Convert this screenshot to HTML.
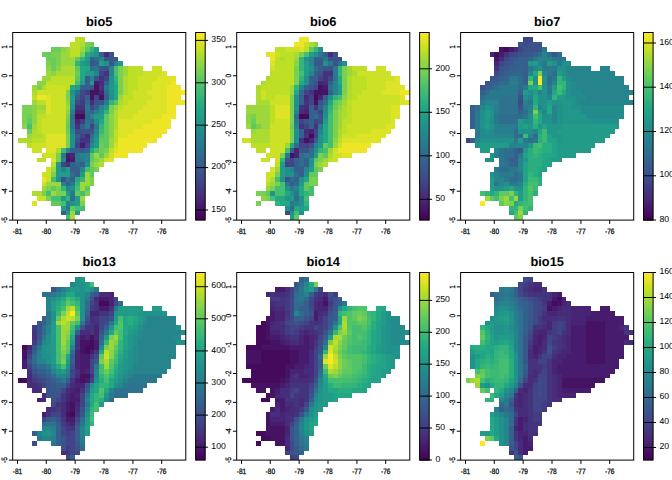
<!DOCTYPE html>
<html><head><meta charset="utf-8"><title>bioclim</title>
<style>
html,body{margin:0;padding:0;background:#fff;overflow:hidden}
svg{display:block}
text{font-family:"Liberation Sans",sans-serif;fill:#000;shape-rendering:auto;text-rendering:geometricPrecision}
.ti{font-size:12.8px;font-weight:bold}
.ax{font-size:7.8px;stroke:#000;stroke-width:.25px}
.lg{font-size:8.7px}
</style></head><body>
<svg width="672" height="480" viewBox="0 0 672 480" shape-rendering="crispEdges">
<defs><linearGradient id="vg" x1="0" y1="0" x2="0" y2="1"><stop offset="0%" stop-color="#fde725"/><stop offset="10%" stop-color="#bddf26"/><stop offset="20%" stop-color="#7ad151"/><stop offset="30%" stop-color="#44bf70"/><stop offset="40%" stop-color="#22a884"/><stop offset="50%" stop-color="#21918c"/><stop offset="60%" stop-color="#2a788e"/><stop offset="70%" stop-color="#355f8d"/><stop offset="80%" stop-color="#414487"/><stop offset="90%" stop-color="#482475"/><stop offset="100%" stop-color="#440154"/></linearGradient></defs>
<rect width="672" height="480" fill="#fff"/>
<g><path fill="rgb(69,10,92)" d="M75.2 114.3H84.8V119.1H75.2z"/>
<path fill="rgb(70,18,100)" d="M94.4 85.4H99.2V90.2H94.4zM89.6 90.2H99.2V95.0H89.6zM89.6 95.0H94.4V99.8H89.6zM99.2 95.0H104.0V99.8H99.2zM65.5 157.6H70.4V162.4H65.5z"/>
<path fill="rgb(71,27,109)" d="M94.4 80.6H99.2V85.4H94.4zM80.0 143.1H84.8V147.9H80.0zM65.5 152.8H70.4V157.6H65.5zM70.4 157.6H75.2V162.4H70.4z"/>
<path fill="rgb(72,36,117)" d="M99.2 90.2H104.0V95.0H99.2zM75.2 109.5H84.8V114.3H75.2zM75.2 119.1H80.0V123.9H75.2zM70.4 152.8H75.2V157.6H70.4z"/>
<path fill="rgb(70,44,122)" d="M104.0 51.7H108.8V56.6H104.0zM99.2 80.6H104.0V85.4H99.2zM89.6 99.8H94.4V104.7H89.6zM84.8 133.5H89.6V138.3H84.8z"/>
<path fill="rgb(68,52,126)" d="M104.0 71.0H108.8V75.8H104.0zM99.2 75.8H104.0V80.6H99.2zM99.2 85.4H104.0V90.2H99.2zM75.2 104.7H84.8V109.5H75.2zM75.2 123.9H80.0V128.7H75.2zM80.0 138.3H89.6V143.1H80.0zM65.5 162.4H70.4V167.2H65.5z"/>
<path fill="rgb(67,60,130)" d="M84.8 90.2H89.6V95.0H84.8zM80.0 99.8H84.8V104.7H80.0zM80.0 119.1H84.8V123.9H80.0z"/>
<path fill="rgb(65,68,135)" d="M99.2 71.0H104.0V75.8H99.2zM104.0 75.8H108.8V80.6H104.0zM80.0 95.0H84.8V99.8H80.0zM94.4 95.0H99.2V99.8H94.4zM89.6 104.7H94.4V109.5H89.6zM89.6 123.9H94.4V128.7H89.6zM80.0 133.5H84.8V138.3H80.0zM75.2 143.1H80.0V147.9H75.2zM84.8 143.1H89.6V147.9H84.8zM60.7 162.4H65.5V167.2H60.7z"/>
<path fill="rgb(62,75,136)" d="M80.0 90.2H84.8V95.0H80.0zM75.2 99.8H80.0V104.7H75.2zM75.2 128.7H80.0V133.5H75.2z"/>
<path fill="rgb(59,82,138)" d="M108.8 51.7H113.6V56.6H108.8zM113.6 56.6H118.4V61.4H113.6zM104.0 66.2H108.8V71.0H104.0zM94.4 75.8H99.2V80.6H94.4zM89.6 85.4H94.4V90.2H89.6zM94.4 99.8H104.0V104.7H94.4zM80.0 128.7H89.6V133.5H80.0zM75.2 138.3H80.0V143.1H75.2zM60.7 176.8H65.5V181.6H60.7z"/>
<path fill="rgb(56,88,140)" d="M104.0 56.6H113.6V61.4H104.0zM89.6 61.4H94.4V66.2H89.6zM108.8 61.4H113.6V66.2H108.8zM99.2 66.2H104.0V71.0H99.2zM89.6 128.7H94.4V133.5H89.6zM80.0 147.9H84.8V152.8H80.0z"/>
<path fill="rgb(53,95,141)" d="M99.2 51.7H104.0V56.6H99.2zM89.6 56.6H94.4V61.4H89.6zM94.4 61.4H99.2V66.2H94.4zM84.8 75.8H89.6V80.6H84.8zM84.8 80.6H89.6V85.4H84.8zM104.0 80.6H108.8V85.4H104.0zM80.0 85.4H89.6V90.2H80.0zM75.2 95.0H80.0V99.8H75.2zM84.8 95.0H89.6V99.8H84.8zM104.0 95.0H108.8V99.8H104.0zM94.4 104.7H99.2V109.5H94.4zM80.0 123.9H84.8V128.7H80.0zM75.2 133.5H80.0V138.3H75.2zM70.4 147.9H80.0V152.8H70.4zM70.4 162.4H75.2V167.2H70.4zM80.0 162.4H84.8V167.2H80.0zM70.4 167.2H80.0V172.0H70.4zM75.2 172.0H80.0V176.8H75.2zM70.4 176.8H75.2V181.6H70.4zM65.5 181.6H70.4V186.4H65.5zM60.7 210.5H65.5V215.3H60.7z"/>
<path fill="rgb(50,101,141)" d="M89.6 109.5H94.4V114.3H89.6zM89.6 119.1H94.4V123.9H89.6zM84.8 147.9H89.6V152.8H84.8z"/>
<path fill="rgb(48,108,142)" d="M94.4 56.6H99.2V61.4H94.4zM89.6 66.2H94.4V71.0H89.6zM75.2 90.2H80.0V95.0H75.2zM104.0 90.2H108.8V95.0H104.0zM84.8 99.8H89.6V104.7H84.8zM70.4 114.3H75.2V119.1H70.4zM84.8 114.3H89.6V119.1H84.8zM89.6 133.5H94.4V138.3H89.6zM75.2 162.4H80.0V167.2H75.2zM70.4 172.0H75.2V176.8H70.4zM70.4 196.0H75.2V200.9H70.4z"/>
<path fill="rgb(45,114,142)" d="M94.4 66.2H99.2V71.0H94.4zM84.8 109.5H89.6V114.3H84.8zM70.4 119.1H75.2V123.9H70.4zM84.8 119.1H89.6V123.9H84.8z"/>
<path fill="rgb(42,120,142)" d="M104.0 85.4H108.8V90.2H104.0zM84.8 104.7H89.6V109.5H84.8zM70.4 123.9H75.2V128.7H70.4zM84.8 123.9H89.6V128.7H84.8zM94.4 123.9H99.2V128.7H94.4zM89.6 138.3H94.4V143.1H89.6zM60.7 152.8H65.5V157.6H60.7zM75.2 152.8H80.0V157.6H75.2zM75.2 157.6H84.8V162.4H75.2zM65.5 176.8H70.4V181.6H65.5zM70.4 181.6H75.2V186.4H70.4zM70.4 191.2H75.2V196.0H70.4zM65.5 205.7H70.4V210.5H65.5z"/>
<path fill="rgb(40,126,142)" d="M104.0 99.8H108.8V104.7H104.0zM70.4 109.5H75.2V114.3H70.4zM94.4 109.5H99.2V114.3H94.4z"/>
<path fill="rgb(38,132,141)" d="M99.2 56.6H104.0V61.4H99.2zM113.6 61.4H118.4V66.2H113.6zM108.8 66.2H113.6V71.0H108.8zM94.4 71.0H99.2V75.8H94.4zM108.8 71.0H113.6V75.8H108.8zM89.6 75.8H94.4V80.6H89.6zM99.2 104.7H104.0V109.5H99.2zM89.6 114.3H94.4V119.1H89.6zM70.4 128.7H75.2V133.5H70.4zM94.4 128.7H99.2V133.5H94.4zM89.6 143.1H94.4V147.9H89.6zM65.5 147.9H70.4V152.8H65.5zM80.0 152.8H89.6V157.6H80.0zM60.7 157.6H65.5V162.4H60.7zM84.8 157.6H89.6V162.4H84.8zM60.7 167.2H65.5V172.0H60.7zM80.0 167.2H84.8V172.0H80.0zM60.7 181.6H65.5V186.4H60.7zM65.5 186.4H70.4V191.2H65.5zM65.5 200.9H70.4V205.7H65.5z"/>
<path fill="rgb(35,139,140)" d="M94.4 119.1H99.2V123.9H94.4z"/>
<path fill="rgb(33,145,140)" d="M94.4 51.7H99.2V56.6H94.4zM84.8 61.4H89.6V66.2H84.8zM104.0 61.4H108.8V66.2H104.0zM108.8 75.8H113.6V80.6H108.8zM108.8 80.6H113.6V85.4H108.8zM70.4 90.2H75.2V95.0H70.4zM108.8 90.2H113.6V95.0H108.8zM108.8 95.0H113.6V99.8H108.8zM70.4 104.7H75.2V109.5H70.4zM99.2 109.5H104.0V114.3H99.2zM70.4 133.5H75.2V138.3H70.4zM94.4 133.5H99.2V138.3H94.4zM70.4 138.3H75.2V143.1H70.4zM70.4 143.1H75.2V147.9H70.4zM84.8 162.4H89.6V167.2H84.8zM55.9 176.8H60.7V181.6H55.9zM70.4 186.4H75.2V191.2H70.4zM70.4 200.9H75.2V205.7H70.4z"/>
<path fill="rgb(33,151,138)" d="M108.8 85.4H113.6V90.2H108.8zM70.4 99.8H75.2V104.7H70.4zM94.4 138.3H99.2V143.1H94.4z"/>
<path fill="rgb(34,156,136)" d="M94.4 46.9H99.2V51.7H94.4zM89.6 51.7H94.4V56.6H89.6zM84.8 56.6H89.6V61.4H84.8zM80.0 61.4H84.8V66.2H80.0zM99.2 61.4H104.0V66.2H99.2zM118.4 61.4H123.2V66.2H118.4zM84.8 71.0H94.4V75.8H84.8zM80.0 80.6H84.8V85.4H80.0zM89.6 80.6H94.4V85.4H89.6zM75.2 85.4H80.0V90.2H75.2zM70.4 95.0H75.2V99.8H70.4zM104.0 104.7H108.8V109.5H104.0zM94.4 114.3H104.0V119.1H94.4zM94.4 143.1H99.2V147.9H94.4zM55.9 162.4H60.7V167.2H55.9zM55.9 167.2H60.7V172.0H55.9zM65.5 167.2H70.4V172.0H65.5zM55.9 172.0H70.4V176.8H55.9zM80.0 172.0H84.8V176.8H80.0zM65.5 191.2H70.4V196.0H65.5zM60.7 196.0H65.5V200.9H60.7zM75.2 196.0H80.0V200.9H75.2zM75.2 200.9H80.0V205.7H75.2zM60.7 205.7H65.5V210.5H60.7zM65.5 210.5H70.4V215.3H65.5zM75.2 210.5H80.0V215.3H75.2z"/>
<path fill="rgb(34,168,132)" d="M84.8 51.7H89.6V56.6H84.8zM80.0 66.2H89.6V71.0H80.0zM80.0 71.0H84.8V75.8H80.0zM80.0 75.8H84.8V80.6H80.0zM70.4 85.4H75.2V90.2H70.4zM113.6 85.4H118.4V90.2H113.6zM113.6 90.2H118.4V95.0H113.6zM113.6 95.0H118.4V99.8H113.6zM99.2 119.1H104.0V123.9H99.2zM89.6 147.9H94.4V152.8H89.6zM75.2 176.8H80.0V181.6H75.2z"/>
<path fill="rgb(42,174,127)" d="M113.6 80.6H118.4V85.4H113.6z"/>
<path fill="rgb(51,180,122)" d="M89.6 46.9H94.4V51.7H89.6zM80.0 56.6H84.8V61.4H80.0zM75.2 61.4H80.0V66.2H75.2zM113.6 75.8H118.4V80.6H113.6zM108.8 99.8H113.6V104.7H108.8zM104.0 109.5H108.8V114.3H104.0zM99.2 123.9H104.0V128.7H99.2zM80.0 176.8H84.8V181.6H80.0zM75.2 181.6H80.0V186.4H75.2zM60.7 186.4H65.5V191.2H60.7zM65.5 196.0H70.4V200.9H65.5z"/>
<path fill="rgb(60,185,117)" d="M99.2 128.7H104.0V133.5H99.2zM60.7 147.9H65.5V152.8H60.7z"/>
<path fill="rgb(68,191,112)" d="M113.6 66.2H118.4V71.0H113.6zM113.6 71.0H118.4V75.8H113.6zM75.2 80.6H80.0V85.4H75.2zM27.1 123.9H31.9V128.7H27.1zM94.4 147.9H99.2V152.8H94.4zM84.8 167.2H89.6V172.0H84.8zM51.1 176.8H55.9V181.6H51.1zM75.2 186.4H80.0V191.2H75.2zM46.3 191.2H51.1V196.0H46.3zM80.0 191.2H84.8V196.0H80.0zM51.1 196.0H60.7V200.9H51.1zM60.7 200.9H65.5V205.7H60.7zM75.2 205.7H84.8V210.5H75.2zM65.5 215.3H70.4V220.1H65.5z"/>
<path fill="rgb(82,196,104)" d="M113.6 99.8H118.4V104.7H113.6zM99.2 133.5H104.0V138.3H99.2z"/>
<path fill="rgb(95,200,96)" d="M84.8 46.9H89.6V51.7H84.8zM75.2 56.6H80.0V61.4H75.2zM75.2 66.2H80.0V71.0H75.2zM75.2 75.8H80.0V80.6H75.2zM104.0 114.3H108.8V119.1H104.0zM27.1 119.1H31.9V123.9H27.1zM104.0 119.1H108.8V123.9H104.0zM65.5 123.9H70.4V128.7H65.5zM104.0 123.9H108.8V128.7H104.0zM104.0 128.7H108.8V133.5H104.0zM104.0 133.5H108.8V138.3H104.0zM99.2 138.3H108.8V143.1H99.2zM104.0 143.1H108.8V147.9H104.0zM89.6 152.8H94.4V157.6H89.6zM99.2 152.8H104.0V157.6H99.2zM89.6 157.6H94.4V162.4H89.6zM89.6 167.2H94.4V172.0H89.6zM89.6 172.0H94.4V176.8H89.6zM51.1 186.4H55.9V191.2H51.1zM84.8 186.4H89.6V191.2H84.8zM75.2 191.2H80.0V196.0H75.2zM51.1 200.9H60.7V205.7H51.1zM70.4 205.7H75.2V210.5H70.4z"/>
<path fill="rgb(108,204,89)" d="M89.6 42.1H94.4V46.9H89.6zM51.1 46.9H60.7V51.7H51.1zM41.5 51.7H51.1V56.6H41.5zM46.3 56.6H55.9V61.4H46.3zM51.1 61.4H55.9V66.2H51.1zM51.1 66.2H55.9V71.0H51.1zM75.2 71.0H80.0V75.8H75.2zM27.1 114.3H31.9V119.1H27.1zM65.5 119.1H70.4V123.9H65.5zM27.1 128.7H31.9V133.5H27.1zM65.5 128.7H70.4V133.5H65.5zM99.2 143.1H104.0V147.9H99.2zM99.2 147.9H104.0V152.8H99.2z"/>
<path fill="rgb(122,209,81)" d="M84.8 42.1H89.6V46.9H84.8zM51.1 51.7H60.7V56.6H51.1zM80.0 51.7H84.8V56.6H80.0zM55.9 56.6H60.7V61.4H55.9zM46.3 61.4H51.1V66.2H46.3zM55.9 61.4H60.7V66.2H55.9zM118.4 66.2H123.2V71.0H118.4zM118.4 71.0H123.2V75.8H118.4zM118.4 75.8H123.2V80.6H118.4zM118.4 80.6H123.2V85.4H118.4zM36.7 85.4H41.5V90.2H36.7zM118.4 85.4H123.2V90.2H118.4zM65.5 90.2H70.4V95.0H65.5zM118.4 90.2H123.2V95.0H118.4zM65.5 95.0H70.4V99.8H65.5zM22.3 104.7H31.9V109.5H22.3zM108.8 104.7H113.6V109.5H108.8zM22.3 109.5H31.9V114.3H22.3zM108.8 109.5H113.6V114.3H108.8zM22.3 114.3H27.1V119.1H22.3zM65.5 114.3H70.4V119.1H65.5zM22.3 119.1H27.1V123.9H22.3zM65.5 133.5H70.4V138.3H65.5zM65.5 138.3H70.4V143.1H65.5zM65.5 143.1H70.4V147.9H65.5zM104.0 147.9H108.8V152.8H104.0zM55.9 152.8H60.7V157.6H55.9zM55.9 157.6H60.7V162.4H55.9zM94.4 157.6H99.2V162.4H94.4zM89.6 162.4H94.4V167.2H89.6zM94.4 167.2H99.2V172.0H94.4zM51.1 172.0H55.9V176.8H51.1zM89.6 176.8H94.4V181.6H89.6zM89.6 181.6H94.4V186.4H89.6zM46.3 186.4H51.1V191.2H46.3zM55.9 186.4H60.7V191.2H55.9zM41.5 191.2H46.3V196.0H41.5zM55.9 191.2H65.5V196.0H55.9zM84.8 191.2H89.6V196.0H84.8zM46.3 196.0H51.1V200.9H46.3zM80.0 200.9H84.8V205.7H80.0z"/>
<path fill="rgb(139,212,70)" d="M60.7 46.9H65.5V51.7H60.7zM46.3 66.2H51.1V71.0H46.3zM55.9 66.2H60.7V71.0H55.9zM51.1 71.0H55.9V75.8H51.1zM36.7 80.6H46.3V85.4H36.7zM65.5 99.8H70.4V104.7H65.5zM31.9 104.7H36.7V109.5H31.9zM31.9 109.5H36.7V114.3H31.9zM65.5 109.5H70.4V114.3H65.5zM31.9 114.3H36.7V119.1H31.9zM108.8 114.3H113.6V119.1H108.8zM31.9 119.1H36.7V123.9H31.9zM108.8 119.1H113.6V123.9H108.8zM22.3 123.9H27.1V128.7H22.3zM108.8 123.9H113.6V128.7H108.8zM108.8 128.7H113.6V133.5H108.8zM108.8 133.5H113.6V138.3H108.8z"/>
<path fill="rgb(156,216,60)" d="M65.5 46.9H70.4V51.7H65.5zM80.0 46.9H84.8V51.7H80.0zM60.7 51.7H70.4V56.6H60.7zM60.7 56.6H75.2V61.4H60.7zM60.7 61.4H75.2V66.2H60.7zM123.2 66.2H128.1V71.0H123.2zM46.3 71.0H51.1V75.8H46.3zM123.2 71.0H128.1V75.8H123.2zM41.5 75.8H51.1V80.6H41.5zM31.9 85.4H36.7V90.2H31.9zM118.4 95.0H123.2V99.8H118.4zM31.9 99.8H36.7V104.7H31.9zM36.7 104.7H46.3V109.5H36.7zM65.5 104.7H70.4V109.5H65.5zM113.6 104.7H118.4V109.5H113.6zM31.9 123.9H36.7V128.7H31.9zM27.1 133.5H31.9V138.3H27.1zM108.8 138.3H113.6V143.1H108.8zM108.8 143.1H113.6V147.9H108.8zM94.4 152.8H99.2V157.6H94.4zM104.0 152.8H108.8V157.6H104.0zM99.2 157.6H104.0V162.4H99.2zM94.4 162.4H99.2V167.2H94.4zM51.1 167.2H55.9V172.0H51.1zM84.8 172.0H89.6V176.8H84.8zM84.8 176.8H89.6V181.6H84.8zM46.3 181.6H60.7V186.4H46.3zM80.0 181.6H89.6V186.4H80.0zM41.5 186.4H46.3V191.2H41.5zM80.0 186.4H84.8V191.2H80.0zM51.1 191.2H55.9V196.0H51.1zM80.0 196.0H84.8V200.9H80.0zM70.4 210.5H75.2V215.3H70.4z"/>
<path fill="rgb(172,220,49)" d="M80.0 42.1H84.8V46.9H80.0zM60.7 66.2H75.2V71.0H60.7zM55.9 71.0H75.2V75.8H55.9zM123.2 75.8H128.1V80.6H123.2zM123.2 80.6H128.1V85.4H123.2zM41.5 85.4H46.3V90.2H41.5zM123.2 85.4H128.1V90.2H123.2zM31.9 90.2H36.7V95.0H31.9zM123.2 90.2H128.1V95.0H123.2zM118.4 99.8H123.2V104.7H118.4zM36.7 109.5H46.3V114.3H36.7zM113.6 109.5H118.4V114.3H113.6zM113.6 114.3H118.4V119.1H113.6zM113.6 119.1H118.4V123.9H113.6zM113.6 123.9H118.4V128.7H113.6zM31.9 128.7H36.7V133.5H31.9zM31.9 133.5H41.5V138.3H31.9zM17.5 138.3H31.9V143.1H17.5zM55.9 147.9H60.7V152.8H55.9zM99.2 162.4H104.0V167.2H99.2zM31.9 191.2H41.5V196.0H31.9zM70.4 215.3H75.2V220.1H70.4z"/>
<path fill="rgb(189,223,38)" d="M75.2 37.3H84.8V42.1H75.2zM70.4 42.1H80.0V46.9H70.4zM70.4 46.9H80.0V51.7H70.4zM70.4 51.7H80.0V56.6H70.4zM128.1 66.2H142.5V71.0H128.1zM128.1 71.0H142.5V75.8H128.1zM51.1 75.8H75.2V80.6H51.1zM128.1 75.8H137.7V80.6H128.1zM46.3 80.6H75.2V85.4H46.3zM128.1 80.6H137.7V85.4H128.1zM65.5 85.4H70.4V90.2H65.5zM128.1 85.4H137.7V90.2H128.1zM128.1 90.2H132.9V95.0H128.1zM31.9 95.0H36.7V99.8H31.9zM123.2 95.0H132.9V99.8H123.2zM36.7 99.8H46.3V104.7H36.7zM123.2 99.8H128.1V104.7H123.2zM118.4 104.7H123.2V109.5H118.4zM36.7 114.3H46.3V119.1H36.7zM36.7 119.1H41.5V123.9H36.7zM36.7 123.9H41.5V128.7H36.7zM36.7 128.7H41.5V133.5H36.7zM113.6 128.7H118.4V133.5H113.6zM41.5 133.5H46.3V138.3H41.5zM113.6 133.5H118.4V138.3H113.6zM31.9 138.3H46.3V143.1H31.9zM113.6 138.3H118.4V143.1H113.6zM27.1 143.1H31.9V147.9H27.1zM108.8 147.9H113.6V152.8H108.8zM36.7 157.6H46.3V162.4H36.7zM51.1 162.4H55.9V167.2H51.1z"/>
<path fill="rgb(205,225,38)" d="M152.1 66.2H161.7V71.0H152.1zM142.5 71.0H161.7V75.8H142.5zM137.7 75.8H156.9V80.6H137.7zM137.7 80.6H152.1V85.4H137.7zM46.3 85.4H65.5V90.2H46.3zM137.7 85.4H152.1V90.2H137.7zM36.7 90.2H65.5V95.0H36.7zM132.9 90.2H147.3V95.0H132.9zM51.1 95.0H65.5V99.8H51.1zM132.9 95.0H152.1V99.8H132.9zM51.1 99.8H65.5V104.7H51.1zM128.1 99.8H147.3V104.7H128.1zM51.1 104.7H65.5V109.5H51.1zM123.2 104.7H142.5V109.5H123.2zM51.1 109.5H65.5V114.3H51.1zM118.4 109.5H137.7V114.3H118.4zM46.3 114.3H65.5V119.1H46.3zM118.4 114.3H132.9V119.1H118.4zM41.5 119.1H65.5V123.9H41.5zM41.5 123.9H65.5V128.7H41.5zM41.5 128.7H65.5V133.5H41.5zM31.9 143.1H46.3V147.9H31.9zM113.6 143.1H118.4V147.9H113.6zM31.9 147.9H41.5V152.8H31.9zM41.5 152.8H55.9V157.6H41.5zM108.8 152.8H113.6V157.6H108.8zM104.0 157.6H108.8V162.4H104.0zM46.3 167.2H51.1V172.0H46.3zM41.5 172.0H51.1V176.8H41.5zM46.3 176.8H51.1V181.6H46.3zM41.5 181.6H46.3V186.4H41.5zM36.7 196.0H46.3V200.9H36.7z"/>
<path fill="rgb(221,227,38)" d="M161.7 71.0H166.5V75.8H161.7zM156.9 75.8H176.1V80.6H156.9zM152.1 80.6H171.3V85.4H152.1zM152.1 85.4H166.5V90.2H152.1zM147.3 90.2H166.5V95.0H147.3zM46.3 95.0H51.1V99.8H46.3zM152.1 95.0H166.5V99.8H152.1zM46.3 99.8H51.1V104.7H46.3zM147.3 99.8H166.5V104.7H147.3zM46.3 104.7H51.1V109.5H46.3zM142.5 104.7H166.5V109.5H142.5zM46.3 109.5H51.1V114.3H46.3zM137.7 109.5H166.5V114.3H137.7zM132.9 114.3H161.7V119.1H132.9zM118.4 119.1H152.1V123.9H118.4zM118.4 123.9H142.5V128.7H118.4zM118.4 128.7H132.9V133.5H118.4zM46.3 133.5H65.5V138.3H46.3zM118.4 133.5H128.1V138.3H118.4zM46.3 138.3H65.5V143.1H46.3zM46.3 143.1H65.5V147.9H46.3zM46.3 147.9H55.9V152.8H46.3zM113.6 147.9H118.4V152.8H113.6zM51.1 157.6H55.9V162.4H51.1zM108.8 157.6H113.6V162.4H108.8zM31.9 200.9H36.7V205.7H31.9z"/>
<path fill="rgb(237,229,37)" d="M171.3 80.6H176.1V85.4H171.3zM166.5 85.4H180.9V90.2H166.5zM166.5 90.2H180.9V95.0H166.5zM36.7 95.0H46.3V99.8H36.7zM166.5 95.0H180.9V99.8H166.5zM166.5 99.8H185.8V104.7H166.5zM166.5 104.7H176.1V109.5H166.5zM166.5 109.5H176.1V114.3H166.5zM161.7 114.3H176.1V119.1H161.7zM152.1 119.1H171.3V123.9H152.1zM142.5 123.9H171.3V128.7H142.5zM132.9 128.7H166.5V133.5H132.9zM128.1 133.5H161.7V138.3H128.1zM118.4 138.3H156.9V143.1H118.4zM118.4 143.1H147.3V147.9H118.4zM118.4 147.9H142.5V152.8H118.4zM113.6 152.8H128.1V157.6H113.6zM41.5 176.8H46.3V181.6H41.5z"/>
<path fill="rgb(253,231,37)" d="M180.9 90.2H185.8V95.0H180.9z"/>
<rect x="12.7" y="32.5" width="173.1" height="187.6" fill="none" stroke="#000" stroke-width="1" shape-rendering="geometricPrecision"/>
<text class="ax" transform="translate(17.5,233.5) scale(.84,1)" text-anchor="middle">-81</text>
<text class="ax" transform="translate(46.3,233.5) scale(.84,1)" text-anchor="middle">-80</text>
<text class="ax" transform="translate(75.2,233.5) scale(.84,1)" text-anchor="middle">-79</text>
<text class="ax" transform="translate(104.0,233.5) scale(.84,1)" text-anchor="middle">-78</text>
<text class="ax" transform="translate(132.9,233.5) scale(.84,1)" text-anchor="middle">-77</text>
<text class="ax" transform="translate(161.7,233.5) scale(.84,1)" text-anchor="middle">-76</text>
<text class="ax" transform="translate(7.2,46.9) rotate(-90) scale(.84,1)" text-anchor="middle">1</text>
<text class="ax" transform="translate(7.2,75.8) rotate(-90) scale(.84,1)" text-anchor="middle">0</text>
<text class="ax" transform="translate(7.2,104.7) rotate(-90) scale(.84,1)" text-anchor="middle">-1</text>
<text class="ax" transform="translate(7.2,133.5) rotate(-90) scale(.84,1)" text-anchor="middle">-2</text>
<text class="ax" transform="translate(7.2,162.4) rotate(-90) scale(.84,1)" text-anchor="middle">-3</text>
<text class="ax" transform="translate(7.2,191.2) rotate(-90) scale(.84,1)" text-anchor="middle">-4</text>
<text class="ax" transform="translate(7.2,220.1) rotate(-90) scale(.84,1)" text-anchor="middle">-5</text>
<path d="M17.5 220.1v3.8M46.3 220.1v3.8M75.2 220.1v3.8M104.0 220.1v3.8M132.9 220.1v3.8M161.7 220.1v3.8M12.7 46.9h-3.8M12.7 75.8h-3.8M12.7 104.7h-3.8M12.7 133.5h-3.8M12.7 162.4h-3.8M12.7 191.2h-3.8M12.7 220.1h-3.8" stroke="#000" stroke-width="1" fill="none" shape-rendering="geometricPrecision"/>
<text class="ti" x="99.2" y="25.9" text-anchor="middle">bio5</text>
<rect x="195.6" y="32.5" width="9.6" height="187.6" fill="url(#vg)" stroke="#000" stroke-width="1" shape-rendering="geometricPrecision"/>
<text class="lg" x="211.3" y="42.1">350</text>
<text class="lg" x="211.3" y="84.5">300</text>
<text class="lg" x="211.3" y="126.9">250</text>
<text class="lg" x="211.3" y="169.3">200</text>
<text class="lg" x="211.3" y="211.7">150</text>
<path d="M195.6 40.4h12.5M195.6 82.8h12.5M195.6 125.2h12.5M195.6 167.6h12.5M195.6 210.0h12.5" stroke="#000" stroke-width="1" fill="none" shape-rendering="geometricPrecision"/></g>
<g><path fill="rgb(69,10,92)" d="M313.6 95.0H318.4V99.8H313.6zM299.2 114.3H308.8V119.1H299.2zM308.8 133.5H313.6V138.3H308.8z"/>
<path fill="rgb(70,18,100)" d="M318.4 85.4H323.2V90.2H318.4zM313.6 90.2H328.0V95.0H313.6zM313.6 99.8H318.4V104.7H313.6zM304.0 138.3H308.8V143.1H304.0zM289.5 152.8H294.4V157.6H289.5z"/>
<path fill="rgb(71,27,109)" d="M323.2 85.4H328.0V90.2H323.2z"/>
<path fill="rgb(72,36,117)" d="M318.4 80.6H323.2V85.4H318.4zM318.4 95.0H323.2V99.8H318.4zM304.0 109.5H308.8V114.3H304.0zM308.8 128.7H313.6V133.5H308.8zM308.8 138.3H313.6V143.1H308.8zM294.4 147.9H299.2V152.8H294.4zM294.4 152.8H299.2V157.6H294.4z"/>
<path fill="rgb(70,44,122)" d="M328.0 51.7H332.8V56.6H328.0zM323.2 80.6H328.0V85.4H323.2zM304.0 95.0H308.8V99.8H304.0zM304.0 104.7H308.8V109.5H304.0zM299.2 109.5H304.0V114.3H299.2zM304.0 128.7H308.8V133.5H304.0z"/>
<path fill="rgb(68,52,126)" d="M323.2 71.0H332.8V75.8H323.2zM323.2 75.8H328.0V80.6H323.2zM308.8 90.2H313.6V95.0H308.8zM304.0 99.8H308.8V104.7H304.0zM299.2 104.7H304.0V109.5H299.2zM313.6 104.7H318.4V109.5H313.6zM299.2 123.9H304.0V128.7H299.2zM313.6 123.9H318.4V128.7H313.6zM304.0 133.5H308.8V138.3H304.0zM299.2 138.3H304.0V143.1H299.2z"/>
<path fill="rgb(65,68,135)" d="M318.4 75.8H323.2V80.6H318.4zM328.0 75.8H332.8V80.6H328.0zM313.6 85.4H318.4V90.2H313.6zM304.0 90.2H308.8V95.0H304.0zM308.8 95.0H313.6V99.8H308.8zM308.8 99.8H313.6V104.7H308.8zM318.4 109.5H323.2V114.3H318.4zM299.2 119.1H304.0V123.9H299.2zM313.6 119.1H318.4V123.9H313.6zM304.0 123.9H308.8V128.7H304.0zM313.6 128.7H318.4V133.5H313.6zM313.6 133.5H318.4V138.3H313.6zM299.2 143.1H308.8V147.9H299.2zM289.5 157.6H294.4V162.4H289.5zM284.7 162.4H294.4V167.2H284.7z"/>
<path fill="rgb(62,75,136)" d="M337.6 56.6H342.4V61.4H337.6zM284.7 210.5H289.5V215.3H284.7z"/>
<path fill="rgb(59,82,138)" d="M332.8 51.7H337.6V56.6H332.8zM328.0 56.6H337.6V61.4H328.0zM332.8 61.4H337.6V66.2H332.8zM323.2 66.2H332.8V71.0H323.2zM318.4 71.0H323.2V75.8H318.4zM313.6 80.6H318.4V85.4H313.6zM308.8 85.4H313.6V90.2H308.8zM318.4 99.8H323.2V104.7H318.4zM318.4 114.3H323.2V119.1H318.4zM304.0 119.1H308.8V123.9H304.0zM318.4 119.1H323.2V123.9H318.4zM308.8 143.1H313.6V147.9H308.8zM299.2 147.9H308.8V152.8H299.2zM284.7 157.6H289.5V162.4H284.7zM284.7 176.8H289.5V181.6H284.7z"/>
<path fill="rgb(56,88,140)" d="M313.6 61.4H323.2V66.2H313.6z"/>
<path fill="rgb(53,95,141)" d="M323.2 51.7H328.0V56.6H323.2zM313.6 56.6H323.2V61.4H313.6zM318.4 66.2H323.2V71.0H318.4zM313.6 71.0H318.4V75.8H313.6zM308.8 75.8H318.4V80.6H308.8zM308.8 80.6H313.6V85.4H308.8zM328.0 80.6H332.8V85.4H328.0zM304.0 85.4H308.8V90.2H304.0zM328.0 90.2H332.8V95.0H328.0zM299.2 95.0H304.0V99.8H299.2zM323.2 95.0H328.0V99.8H323.2zM299.2 99.8H304.0V104.7H299.2zM308.8 104.7H313.6V109.5H308.8zM318.4 104.7H323.2V109.5H318.4zM308.8 109.5H318.4V114.3H308.8zM308.8 114.3H313.6V119.1H308.8zM308.8 119.1H313.6V123.9H308.8zM308.8 123.9H313.6V128.7H308.8zM299.2 128.7H304.0V133.5H299.2zM299.2 133.5H304.0V138.3H299.2zM313.6 138.3H318.4V143.1H313.6zM289.5 147.9H294.4V152.8H289.5zM294.4 157.6H299.2V162.4H294.4zM304.0 157.6H308.8V162.4H304.0zM294.4 162.4H299.2V167.2H294.4zM304.0 162.4H308.8V167.2H304.0zM294.4 167.2H304.0V172.0H294.4zM299.2 172.0H304.0V176.8H299.2zM294.4 176.8H299.2V181.6H294.4zM289.5 181.6H294.4V186.4H289.5z"/>
<path fill="rgb(48,108,142)" d="M313.6 66.2H318.4V71.0H313.6zM328.0 85.4H332.8V90.2H328.0zM299.2 90.2H304.0V95.0H299.2zM323.2 99.8H328.0V104.7H323.2zM294.4 114.3H299.2V119.1H294.4zM313.6 114.3H318.4V119.1H313.6zM294.4 143.1H299.2V147.9H294.4zM308.8 147.9H313.6V152.8H308.8zM299.2 152.8H304.0V157.6H299.2zM308.8 152.8H313.6V157.6H308.8zM299.2 157.6H304.0V162.4H299.2zM299.2 162.4H304.0V167.2H299.2zM294.4 172.0H299.2V176.8H294.4zM289.5 176.8H294.4V181.6H289.5zM294.4 181.6H299.2V186.4H294.4zM294.4 196.0H299.2V200.9H294.4zM289.5 205.7H294.4V210.5H289.5z"/>
<path fill="rgb(42,120,142)" d="M318.4 51.7H323.2V56.6H318.4zM323.2 56.6H328.0V61.4H323.2zM328.0 61.4H332.8V66.2H328.0zM337.6 61.4H342.4V66.2H337.6zM332.8 66.2H337.6V71.0H332.8zM332.8 71.0H337.6V75.8H332.8zM332.8 75.8H337.6V80.6H332.8zM294.4 119.1H299.2V123.9H294.4zM318.4 123.9H323.2V128.7H318.4zM284.7 152.8H289.5V157.6H284.7zM304.0 152.8H308.8V157.6H304.0zM284.7 181.6H289.5V186.4H284.7zM289.5 186.4H294.4V191.2H289.5zM294.4 191.2H299.2V196.0H294.4zM289.5 200.9H294.4V205.7H289.5z"/>
<path fill="rgb(38,132,141)" d="M308.8 56.6H313.6V61.4H308.8zM308.8 61.4H313.6V66.2H308.8zM308.8 71.0H313.6V75.8H308.8zM332.8 80.6H337.6V85.4H332.8zM299.2 85.4H304.0V90.2H299.2zM332.8 85.4H337.6V90.2H332.8zM332.8 90.2H337.6V95.0H332.8zM323.2 104.7H328.0V109.5H323.2zM294.4 109.5H299.2V114.3H294.4zM294.4 123.9H299.2V128.7H294.4zM318.4 128.7H323.2V133.5H318.4zM313.6 143.1H318.4V147.9H313.6zM289.5 167.2H294.4V172.0H289.5zM304.0 167.2H308.8V172.0H304.0zM294.4 186.4H299.2V191.2H294.4zM294.4 200.9H299.2V205.7H294.4z"/>
<path fill="rgb(35,139,140)" d="M323.2 109.5H328.0V114.3H323.2z"/>
<path fill="rgb(33,145,140)" d="M318.4 46.9H323.2V51.7H318.4zM313.6 51.7H318.4V56.6H313.6zM304.0 56.6H308.8V61.4H304.0zM323.2 61.4H328.0V66.2H323.2zM342.4 61.4H347.2V66.2H342.4zM308.8 66.2H313.6V71.0H308.8zM304.0 75.8H308.8V80.6H304.0zM304.0 80.6H308.8V85.4H304.0zM294.4 95.0H299.2V99.8H294.4zM328.0 95.0H332.8V99.8H328.0zM294.4 99.8H299.2V104.7H294.4zM294.4 104.7H299.2V109.5H294.4zM323.2 114.3H328.0V119.1H323.2zM294.4 128.7H299.2V133.5H294.4zM294.4 133.5H299.2V138.3H294.4zM318.4 133.5H323.2V138.3H318.4zM294.4 138.3H299.2V143.1H294.4zM318.4 138.3H323.2V143.1H318.4zM313.6 147.9H318.4V152.8H313.6zM308.8 157.6H313.6V162.4H308.8zM308.8 162.4H313.6V167.2H308.8zM284.7 167.2H289.5V172.0H284.7zM284.7 172.0H294.4V176.8H284.7zM304.0 172.0H308.8V176.8H304.0zM279.9 176.8H284.7V181.6H279.9zM299.2 176.8H304.0V181.6H299.2zM284.7 186.4H289.5V191.2H284.7zM270.3 191.2H275.1V196.0H270.3zM289.5 191.2H294.4V196.0H289.5zM284.7 196.0H289.5V200.9H284.7zM299.2 196.0H304.0V200.9H299.2zM299.2 200.9H304.0V205.7H299.2zM284.7 205.7H289.5V210.5H284.7zM289.5 210.5H294.4V215.3H289.5zM299.2 210.5H304.0V215.3H299.2z"/>
<path fill="rgb(34,156,136)" d="M308.8 51.7H313.6V56.6H308.8zM304.0 61.4H308.8V66.2H304.0zM304.0 66.2H308.8V71.0H304.0zM304.0 71.0H308.8V75.8H304.0zM337.6 85.4H342.4V90.2H337.6zM337.6 90.2H342.4V95.0H337.6zM323.2 119.1H328.0V123.9H323.2zM318.4 143.1H323.2V147.9H318.4zM313.6 152.8H318.4V157.6H313.6zM279.9 162.4H284.7V167.2H279.9zM279.9 167.2H284.7V172.0H279.9zM308.8 167.2H313.6V172.0H308.8zM279.9 172.0H284.7V176.8H279.9zM299.2 181.6H304.0V186.4H299.2zM289.5 196.0H294.4V200.9H289.5zM299.2 205.7H304.0V210.5H299.2zM289.5 215.3H294.4V220.1H289.5z"/>
<path fill="rgb(34,168,132)" d="M337.6 75.8H342.4V80.6H337.6zM299.2 80.6H304.0V85.4H299.2zM337.6 80.6H342.4V85.4H337.6zM294.4 90.2H299.2V95.0H294.4zM328.0 99.8H332.8V104.7H328.0zM323.2 123.9H328.0V128.7H323.2zM323.2 128.7H328.0V133.5H323.2zM323.2 133.5H328.0V138.3H323.2zM323.2 138.3H328.0V143.1H323.2zM289.5 143.1H294.4V147.9H289.5zM304.0 176.8H308.8V181.6H304.0zM299.2 186.4H304.0V191.2H299.2zM284.7 191.2H289.5V196.0H284.7zM299.2 191.2H304.0V196.0H299.2zM275.1 196.0H284.7V200.9H275.1zM279.9 200.9H289.5V205.7H279.9zM294.4 205.7H299.2V210.5H294.4zM304.0 205.7H308.8V210.5H304.0z"/>
<path fill="rgb(51,180,122)" d="M313.6 46.9H318.4V51.7H313.6zM299.2 56.6H304.0V61.4H299.2zM299.2 61.4H304.0V66.2H299.2zM299.2 66.2H304.0V71.0H299.2zM337.6 66.2H342.4V71.0H337.6zM337.6 71.0H342.4V75.8H337.6zM299.2 75.8H304.0V80.6H299.2zM294.4 85.4H299.2V90.2H294.4zM332.8 95.0H337.6V99.8H332.8zM328.0 104.7H332.8V109.5H328.0zM318.4 147.9H323.2V152.8H318.4zM279.9 157.6H284.7V162.4H279.9zM304.0 191.2H308.8V196.0H304.0zM275.1 200.9H279.9V205.7H275.1zM304.0 200.9H308.8V205.7H304.0z"/>
<path fill="rgb(60,185,117)" d="M328.0 109.5H332.8V114.3H328.0z"/>
<path fill="rgb(68,191,112)" d="M304.0 51.7H308.8V56.6H304.0zM299.2 71.0H304.0V75.8H299.2zM337.6 95.0H342.4V99.8H337.6zM328.0 114.3H332.8V119.1H328.0zM328.0 119.1H332.8V123.9H328.0zM328.0 123.9H332.8V128.7H328.0zM328.0 128.7H332.8V133.5H328.0zM328.0 133.5H332.8V138.3H328.0zM328.0 138.3H332.8V143.1H328.0zM328.0 143.1H332.8V147.9H328.0zM284.7 147.9H289.5V152.8H284.7zM323.2 147.9H328.0V152.8H323.2zM275.1 176.8H279.9V181.6H275.1zM279.9 181.6H284.7V186.4H279.9zM275.1 186.4H284.7V191.2H275.1zM308.8 186.4H313.6V191.2H308.8zM275.1 191.2H284.7V196.0H275.1zM308.8 191.2H313.6V196.0H308.8zM270.3 196.0H275.1V200.9H270.3zM304.0 196.0H308.8V200.9H304.0zM294.4 210.5H299.2V215.3H294.4z"/>
<path fill="rgb(95,200,96)" d="M308.8 46.9H313.6V51.7H308.8zM332.8 99.8H337.6V104.7H332.8zM251.1 123.9H255.9V128.7H251.1zM323.2 143.1H328.0V147.9H323.2zM323.2 152.8H328.0V157.6H323.2zM313.6 157.6H318.4V162.4H313.6zM313.6 167.2H318.4V172.0H313.6zM308.8 172.0H318.4V176.8H308.8zM304.0 181.6H308.8V186.4H304.0zM304.0 186.4H308.8V191.2H304.0zM265.5 191.2H270.3V196.0H265.5zM294.4 215.3H299.2V220.1H294.4z"/>
<path fill="rgb(108,204,89)" d="M332.8 104.7H337.6V109.5H332.8zM251.1 119.1H255.9V123.9H251.1zM289.5 123.9H294.4V128.7H289.5z"/>
<path fill="rgb(122,209,81)" d="M299.2 51.7H304.0V56.6H299.2zM294.4 66.2H299.2V71.0H294.4zM342.4 66.2H347.2V71.0H342.4zM294.4 71.0H299.2V75.8H294.4zM342.4 71.0H347.2V75.8H342.4zM294.4 75.8H299.2V80.6H294.4zM342.4 75.8H347.2V80.6H342.4zM294.4 80.6H299.2V85.4H294.4zM342.4 80.6H347.2V85.4H342.4zM342.4 85.4H347.2V90.2H342.4zM342.4 90.2H347.2V95.0H342.4zM289.5 95.0H294.4V99.8H289.5zM289.5 99.8H294.4V104.7H289.5zM337.6 99.8H342.4V104.7H337.6zM289.5 104.7H294.4V109.5H289.5zM289.5 109.5H294.4V114.3H289.5zM332.8 109.5H337.6V114.3H332.8zM251.1 114.3H255.9V119.1H251.1zM289.5 114.3H294.4V119.1H289.5zM332.8 114.3H337.6V119.1H332.8zM289.5 119.1H294.4V123.9H289.5zM332.8 119.1H337.6V123.9H332.8zM255.9 123.9H260.7V128.7H255.9zM332.8 123.9H337.6V128.7H332.8zM289.5 128.7H294.4V133.5H289.5zM332.8 128.7H337.6V133.5H332.8zM289.5 133.5H294.4V138.3H289.5zM332.8 133.5H337.6V138.3H332.8zM289.5 138.3H294.4V143.1H289.5zM279.9 152.8H284.7V157.6H279.9zM318.4 152.8H323.2V157.6H318.4zM318.4 157.6H323.2V162.4H318.4zM313.6 162.4H318.4V167.2H313.6zM318.4 167.2H323.2V172.0H318.4zM275.1 172.0H279.9V176.8H275.1zM308.8 176.8H318.4V181.6H308.8zM275.1 181.6H279.9V186.4H275.1zM308.8 181.6H318.4V186.4H308.8zM270.3 186.4H275.1V191.2H270.3zM255.9 191.2H265.5V196.0H255.9zM265.5 196.0H270.3V200.9H265.5zM255.9 200.9H260.7V205.7H255.9z"/>
<path fill="rgb(139,212,70)" d="M313.6 42.1H318.4V46.9H313.6zM294.4 61.4H299.2V66.2H294.4zM342.4 95.0H347.2V99.8H342.4zM337.6 104.7H342.4V109.5H337.6zM246.3 114.3H251.1V119.1H246.3zM246.3 119.1H251.1V123.9H246.3zM332.8 138.3H337.6V143.1H332.8zM260.7 196.0H265.5V200.9H260.7z"/>
<path fill="rgb(156,216,60)" d="M294.4 56.6H299.2V61.4H294.4zM347.2 66.2H352.1V71.0H347.2zM347.2 71.0H352.1V75.8H347.2zM289.5 85.4H294.4V90.2H289.5zM289.5 90.2H294.4V95.0H289.5zM342.4 99.8H347.2V104.7H342.4zM246.3 104.7H270.3V109.5H246.3zM246.3 109.5H270.3V114.3H246.3zM337.6 109.5H342.4V114.3H337.6zM255.9 114.3H270.3V119.1H255.9zM337.6 114.3H342.4V119.1H337.6zM255.9 119.1H270.3V123.9H255.9zM337.6 119.1H342.4V123.9H337.6zM246.3 123.9H251.1V128.7H246.3zM260.7 123.9H270.3V128.7H260.7zM337.6 123.9H342.4V128.7H337.6zM251.1 128.7H255.9V133.5H251.1zM284.7 143.1H289.5V147.9H284.7zM332.8 143.1H337.6V147.9H332.8zM328.0 147.9H332.8V152.8H328.0zM323.2 157.6H328.0V162.4H323.2zM318.4 162.4H323.2V167.2H318.4zM275.1 167.2H279.9V172.0H275.1zM270.3 181.6H275.1V186.4H270.3zM265.5 186.4H270.3V191.2H265.5z"/>
<path fill="rgb(172,220,49)" d="M308.8 42.1H313.6V46.9H308.8zM294.4 51.7H299.2V56.6H294.4zM279.9 56.6H284.7V61.4H279.9zM352.1 71.0H356.9V75.8H352.1zM265.5 75.8H270.3V80.6H265.5zM347.2 75.8H352.1V80.6H347.2zM260.7 80.6H265.5V85.4H260.7zM347.2 80.6H352.1V85.4H347.2zM255.9 85.4H260.7V90.2H255.9zM347.2 85.4H352.1V90.2H347.2zM255.9 90.2H260.7V95.0H255.9zM347.2 90.2H352.1V95.0H347.2zM255.9 95.0H260.7V99.8H255.9zM347.2 95.0H352.1V99.8H347.2zM255.9 99.8H270.3V104.7H255.9zM342.4 104.7H347.2V109.5H342.4zM342.4 109.5H347.2V114.3H342.4zM342.4 114.3H347.2V119.1H342.4zM255.9 128.7H270.3V133.5H255.9zM337.6 128.7H342.4V133.5H337.6zM251.1 133.5H270.3V138.3H251.1zM337.6 133.5H342.4V138.3H337.6zM251.1 138.3H270.3V143.1H251.1zM328.0 152.8H332.8V157.6H328.0zM323.2 162.4H328.0V167.2H323.2zM270.3 176.8H275.1V181.6H270.3z"/>
<path fill="rgb(189,223,38)" d="M275.1 46.9H284.7V51.7H275.1zM304.0 46.9H308.8V51.7H304.0zM279.9 51.7H294.4V56.6H279.9zM275.1 56.6H279.9V61.4H275.1zM284.7 56.6H294.4V61.4H284.7zM275.1 61.4H294.4V66.2H275.1zM275.1 66.2H294.4V71.0H275.1zM352.1 66.2H366.5V71.0H352.1zM270.3 71.0H294.4V75.8H270.3zM270.3 75.8H294.4V80.6H270.3zM352.1 75.8H366.5V80.6H352.1zM265.5 80.6H294.4V85.4H265.5zM352.1 80.6H366.5V85.4H352.1zM260.7 85.4H289.5V90.2H260.7zM352.1 85.4H366.5V90.2H352.1zM265.5 90.2H289.5V95.0H265.5zM352.1 90.2H361.7V95.0H352.1zM265.5 95.0H275.1V99.8H265.5zM352.1 95.0H356.9V99.8H352.1zM347.2 99.8H352.1V104.7H347.2zM270.3 104.7H275.1V109.5H270.3zM347.2 104.7H352.1V109.5H347.2zM270.3 109.5H275.1V114.3H270.3zM347.2 109.5H352.1V114.3H347.2zM270.3 114.3H275.1V119.1H270.3zM347.2 114.3H352.1V119.1H347.2zM270.3 119.1H275.1V123.9H270.3zM342.4 119.1H352.1V123.9H342.4zM342.4 123.9H347.2V128.7H342.4zM342.4 128.7H347.2V133.5H342.4zM337.6 138.3H342.4V143.1H337.6zM251.1 143.1H270.3V147.9H251.1zM255.9 147.9H265.5V152.8H255.9zM328.0 157.6H332.8V162.4H328.0zM275.1 162.4H279.9V167.2H275.1zM265.5 181.6H270.3V186.4H265.5z"/>
<path fill="rgb(205,225,38)" d="M304.0 42.1H308.8V46.9H304.0zM284.7 46.9H299.2V51.7H284.7zM275.1 51.7H279.9V56.6H275.1zM270.3 66.2H275.1V71.0H270.3zM376.1 66.2H385.7V71.0H376.1zM356.9 71.0H390.5V75.8H356.9zM366.5 75.8H395.3V80.6H366.5zM366.5 80.6H385.7V85.4H366.5zM366.5 85.4H385.7V90.2H366.5zM260.7 90.2H265.5V95.0H260.7zM361.7 90.2H380.9V95.0H361.7zM260.7 95.0H265.5V99.8H260.7zM275.1 95.0H289.5V99.8H275.1zM356.9 95.0H400.1V99.8H356.9zM270.3 99.8H289.5V104.7H270.3zM352.1 99.8H400.1V104.7H352.1zM352.1 104.7H390.5V109.5H352.1zM352.1 109.5H390.5V114.3H352.1zM352.1 114.3H390.5V119.1H352.1zM275.1 119.1H289.5V123.9H275.1zM352.1 119.1H390.5V123.9H352.1zM270.3 123.9H289.5V128.7H270.3zM347.2 123.9H385.7V128.7H347.2zM270.3 128.7H289.5V133.5H270.3zM347.2 128.7H371.3V133.5H347.2zM270.3 133.5H289.5V138.3H270.3zM342.4 133.5H356.9V138.3H342.4zM241.5 138.3H251.1V143.1H241.5zM270.3 138.3H289.5V143.1H270.3zM270.3 143.1H284.7V147.9H270.3zM337.6 143.1H342.4V147.9H337.6zM270.3 147.9H284.7V152.8H270.3zM332.8 147.9H337.6V152.8H332.8zM265.5 152.8H279.9V157.6H265.5zM332.8 152.8H342.4V157.6H332.8zM260.7 157.6H270.3V162.4H260.7zM275.1 157.6H279.9V162.4H275.1zM332.8 157.6H337.6V162.4H332.8zM265.5 172.0H275.1V176.8H265.5zM265.5 176.8H270.3V181.6H265.5z"/>
<path fill="rgb(221,227,38)" d="M299.2 46.9H304.0V51.7H299.2zM265.5 51.7H270.3V56.6H265.5zM270.3 61.4H275.1V66.2H270.3zM395.3 75.8H400.1V80.6H395.3zM385.7 80.6H400.1V85.4H385.7zM385.7 85.4H404.9V90.2H385.7zM380.9 90.2H400.1V95.0H380.9zM400.1 95.0H404.9V99.8H400.1zM400.1 99.8H409.8V104.7H400.1zM275.1 104.7H289.5V109.5H275.1zM390.5 104.7H400.1V109.5H390.5zM275.1 109.5H289.5V114.3H275.1zM390.5 109.5H400.1V114.3H390.5zM275.1 114.3H289.5V119.1H275.1zM390.5 114.3H400.1V119.1H390.5zM390.5 119.1H395.3V123.9H390.5zM385.7 123.9H395.3V128.7H385.7zM371.3 128.7H390.5V133.5H371.3zM356.9 133.5H385.7V138.3H356.9zM342.4 138.3H380.9V143.1H342.4zM342.4 152.8H352.1V157.6H342.4zM270.3 167.2H275.1V172.0H270.3z"/>
<path fill="rgb(237,229,37)" d="M299.2 37.3H308.8V42.1H299.2zM294.4 42.1H304.0V46.9H294.4zM270.3 51.7H275.1V56.6H270.3zM270.3 56.6H275.1V61.4H270.3zM400.1 90.2H409.8V95.0H400.1zM342.4 143.1H371.3V147.9H342.4zM337.6 147.9H366.5V152.8H337.6z"/>
<rect x="236.7" y="32.5" width="173.1" height="187.6" fill="none" stroke="#000" stroke-width="1" shape-rendering="geometricPrecision"/>
<text class="ax" transform="translate(241.5,233.5) scale(.84,1)" text-anchor="middle">-81</text>
<text class="ax" transform="translate(270.3,233.5) scale(.84,1)" text-anchor="middle">-80</text>
<text class="ax" transform="translate(299.2,233.5) scale(.84,1)" text-anchor="middle">-79</text>
<text class="ax" transform="translate(328.0,233.5) scale(.84,1)" text-anchor="middle">-78</text>
<text class="ax" transform="translate(356.9,233.5) scale(.84,1)" text-anchor="middle">-77</text>
<text class="ax" transform="translate(385.7,233.5) scale(.84,1)" text-anchor="middle">-76</text>
<text class="ax" transform="translate(231.2,46.9) rotate(-90) scale(.84,1)" text-anchor="middle">1</text>
<text class="ax" transform="translate(231.2,75.8) rotate(-90) scale(.84,1)" text-anchor="middle">0</text>
<text class="ax" transform="translate(231.2,104.7) rotate(-90) scale(.84,1)" text-anchor="middle">-1</text>
<text class="ax" transform="translate(231.2,133.5) rotate(-90) scale(.84,1)" text-anchor="middle">-2</text>
<text class="ax" transform="translate(231.2,162.4) rotate(-90) scale(.84,1)" text-anchor="middle">-3</text>
<text class="ax" transform="translate(231.2,191.2) rotate(-90) scale(.84,1)" text-anchor="middle">-4</text>
<text class="ax" transform="translate(231.2,220.1) rotate(-90) scale(.84,1)" text-anchor="middle">-5</text>
<path d="M241.5 220.1v3.8M270.3 220.1v3.8M299.2 220.1v3.8M328.0 220.1v3.8M356.9 220.1v3.8M385.7 220.1v3.8M236.7 46.9h-3.8M236.7 75.8h-3.8M236.7 104.7h-3.8M236.7 133.5h-3.8M236.7 162.4h-3.8M236.7 191.2h-3.8M236.7 220.1h-3.8" stroke="#000" stroke-width="1" fill="none" shape-rendering="geometricPrecision"/>
<text class="ti" x="323.2" y="25.9" text-anchor="middle">bio6</text>
<rect x="419.6" y="32.5" width="9.6" height="187.6" fill="url(#vg)" stroke="#000" stroke-width="1" shape-rendering="geometricPrecision"/>
<text class="lg" x="435.4" y="70.5">200</text>
<text class="lg" x="435.4" y="114.0">150</text>
<text class="lg" x="435.4" y="157.5">100</text>
<text class="lg" x="435.4" y="201.0">50</text>
<path d="M419.6 68.8h12.5M419.6 112.3h12.5M419.6 155.8h12.5M419.6 199.3h12.5" stroke="#000" stroke-width="1" fill="none" shape-rendering="geometricPrecision"/></g>
<g><path fill="rgb(69,10,92)" d="M503.9 46.9H508.7V51.7H503.9zM494.3 51.7H499.1V56.6H494.3z"/>
<path fill="rgb(70,18,100)" d="M499.1 46.9H503.9V51.7H499.1zM494.3 56.6H499.1V61.4H494.3z"/>
<path fill="rgb(71,27,109)" d="M508.7 46.9H513.5V51.7H508.7zM499.1 51.7H503.9V56.6H499.1z"/>
<path fill="rgb(72,36,117)" d="M489.5 51.7H494.3V56.6H489.5zM494.3 61.4H499.1V66.2H494.3z"/>
<path fill="rgb(70,44,122)" d="M513.5 46.9H518.4V51.7H513.5zM499.1 56.6H503.9V61.4H499.1z"/>
<path fill="rgb(68,52,126)" d="M503.9 51.7H508.7V56.6H503.9zM494.3 66.2H499.1V71.0H494.3z"/>
<path fill="rgb(65,68,135)" d="M523.2 37.3H532.8V42.1H523.2zM518.4 46.9H523.2V51.7H518.4zM508.7 51.7H513.5V56.6H508.7zM503.9 56.6H508.7V61.4H503.9zM499.1 61.4H503.9V66.2H499.1zM465.5 138.3H470.3V143.1H465.5z"/>
<path fill="rgb(62,75,136)" d="M523.2 42.1H528.0V46.9H523.2zM513.5 51.7H518.4V56.6H513.5zM494.3 71.0H499.1V75.8H494.3zM518.4 99.8H523.2V104.7H518.4z"/>
<path fill="rgb(59,82,138)" d="M518.4 42.1H523.2V46.9H518.4zM528.0 42.1H542.4V46.9H528.0zM523.2 46.9H542.4V51.7H523.2zM518.4 51.7H523.2V56.6H518.4zM508.7 56.6H513.5V61.4H508.7zM503.9 61.4H508.7V66.2H503.9zM499.1 66.2H503.9V71.0H499.1zM489.5 75.8H494.3V80.6H489.5zM484.7 80.6H489.5V85.4H484.7zM479.9 85.4H484.7V90.2H479.9zM518.4 95.0H523.2V99.8H518.4zM518.4 104.7H523.2V109.5H518.4z"/>
<path fill="rgb(56,88,140)" d="M523.2 51.7H532.8V56.6H523.2zM552.0 51.7H556.8V56.6H552.0zM513.5 56.6H518.4V61.4H513.5zM508.7 61.4H513.5V66.2H508.7zM503.9 66.2H508.7V71.0H503.9zM499.1 71.0H503.9V75.8H499.1zM494.3 75.8H499.1V80.6H494.3zM518.4 147.9H523.2V152.8H518.4z"/>
<path fill="rgb(53,95,141)" d="M532.8 51.7H537.6V56.6H532.8zM518.4 56.6H528.0V61.4H518.4zM513.5 61.4H528.0V66.2H513.5zM508.7 66.2H518.4V71.0H508.7zM523.2 66.2H528.0V71.0H523.2zM503.9 71.0H508.7V75.8H503.9zM523.2 71.0H528.0V75.8H523.2zM499.1 75.8H503.9V80.6H499.1zM523.2 75.8H528.0V80.6H523.2zM489.5 80.6H499.1V85.4H489.5zM523.2 80.6H528.0V85.4H523.2zM484.7 85.4H489.5V90.2H484.7zM479.9 90.2H484.7V95.0H479.9zM518.4 90.2H523.2V95.0H518.4zM470.3 104.7H475.1V109.5H470.3zM470.3 109.5H475.1V114.3H470.3zM518.4 109.5H523.2V114.3H518.4zM470.3 114.3H475.1V119.1H470.3zM470.3 119.1H475.1V123.9H470.3zM470.3 123.9H475.1V128.7H470.3zM470.3 138.3H475.1V143.1H470.3zM513.5 147.9H518.4V152.8H513.5zM513.5 152.8H518.4V157.6H513.5zM508.7 157.6H518.4V162.4H508.7zM513.5 162.4H518.4V167.2H513.5z"/>
<path fill="rgb(50,101,141)" d="M528.0 56.6H532.8V61.4H528.0zM518.4 66.2H523.2V71.0H518.4zM508.7 71.0H523.2V75.8H508.7zM503.9 75.8H508.7V80.6H503.9zM489.5 85.4H494.3V90.2H489.5zM508.7 162.4H513.5V167.2H508.7z"/>
<path fill="rgb(48,108,142)" d="M537.6 51.7H542.4V56.6H537.6zM547.2 51.7H552.0V56.6H547.2zM556.8 51.7H561.6V56.6H556.8zM552.0 71.0H556.8V75.8H552.0zM518.4 75.8H523.2V80.6H518.4zM547.2 75.8H552.0V80.6H547.2zM499.1 80.6H508.7V85.4H499.1zM518.4 80.6H523.2V85.4H518.4zM547.2 80.6H552.0V85.4H547.2zM494.3 85.4H499.1V90.2H494.3zM518.4 85.4H523.2V90.2H518.4zM484.7 90.2H489.5V95.0H484.7zM479.9 95.0H484.7V99.8H479.9zM475.1 104.7H479.9V109.5H475.1zM523.2 109.5H528.0V114.3H523.2zM499.1 114.3H523.2V119.1H499.1zM499.1 119.1H513.5V123.9H499.1zM513.5 128.7H518.4V133.5H513.5zM513.5 133.5H523.2V138.3H513.5zM532.8 133.5H537.6V138.3H532.8zM528.0 138.3H532.8V143.1H528.0zM503.9 147.9H513.5V152.8H503.9zM503.9 152.8H513.5V157.6H503.9zM503.9 157.6H508.7V162.4H503.9zM499.1 167.2H508.7V172.0H499.1zM513.5 172.0H518.4V176.8H513.5zM508.7 176.8H518.4V181.6H508.7z"/>
<path fill="rgb(45,114,142)" d="M499.1 95.0H518.4V99.8H499.1zM499.1 99.8H518.4V104.7H499.1zM499.1 104.7H518.4V109.5H499.1zM499.1 109.5H518.4V114.3H499.1zM513.5 119.1H518.4V123.9H513.5zM499.1 152.8H503.9V157.6H499.1zM503.9 162.4H508.7V167.2H503.9z"/>
<path fill="rgb(42,120,142)" d="M542.4 46.9H547.2V51.7H542.4zM532.8 56.6H537.6V61.4H532.8zM552.0 56.6H566.4V61.4H552.0zM542.4 61.4H547.2V66.2H542.4zM556.8 61.4H561.6V66.2H556.8zM528.0 66.2H532.8V71.0H528.0zM542.4 66.2H556.8V71.0H542.4zM547.2 71.0H552.0V75.8H547.2zM508.7 75.8H518.4V80.6H508.7zM552.0 75.8H556.8V80.6H552.0zM499.1 85.4H518.4V90.2H499.1zM523.2 85.4H528.0V90.2H523.2zM547.2 85.4H552.0V90.2H547.2zM489.5 90.2H518.4V95.0H489.5zM547.2 90.2H552.0V95.0H547.2zM484.7 95.0H499.1V99.8H484.7zM479.9 99.8H484.7V104.7H479.9zM528.0 99.8H532.8V104.7H528.0zM523.2 104.7H528.0V109.5H523.2zM475.1 109.5H479.9V114.3H475.1zM475.1 114.3H479.9V119.1H475.1zM494.3 114.3H499.1V119.1H494.3zM523.2 114.3H528.0V119.1H523.2zM475.1 119.1H479.9V123.9H475.1zM494.3 119.1H499.1V123.9H494.3zM475.1 123.9H479.9V128.7H475.1zM513.5 123.9H518.4V128.7H513.5zM475.1 128.7H479.9V133.5H475.1zM475.1 133.5H479.9V138.3H475.1zM513.5 138.3H518.4V143.1H513.5zM523.2 138.3H528.0V143.1H523.2zM532.8 138.3H537.6V143.1H532.8zM499.1 147.9H503.9V152.8H499.1zM518.4 152.8H523.2V157.6H518.4zM499.1 157.6H503.9V162.4H499.1zM499.1 162.4H503.9V167.2H499.1zM494.3 167.2H499.1V172.0H494.3zM508.7 167.2H518.4V172.0H508.7zM499.1 172.0H508.7V176.8H499.1zM518.4 172.0H523.2V176.8H518.4zM503.9 176.8H508.7V181.6H503.9zM518.4 176.8H523.2V181.6H518.4zM494.3 181.6H499.1V186.4H494.3zM508.7 181.6H518.4V186.4H508.7z"/>
<path fill="rgb(40,126,142)" d="M508.7 80.6H518.4V85.4H508.7zM494.3 104.7H499.1V109.5H494.3zM494.3 109.5H499.1V114.3H494.3zM499.1 123.9H513.5V128.7H499.1zM494.3 128.7H513.5V133.5H494.3zM494.3 152.8H499.1V157.6H494.3zM508.7 172.0H513.5V176.8H508.7z"/>
<path fill="rgb(38,132,141)" d="M542.4 51.7H547.2V56.6H542.4zM537.6 56.6H552.0V61.4H537.6zM537.6 61.4H542.4V66.2H537.6zM532.8 66.2H537.6V71.0H532.8zM566.4 66.2H590.5V71.0H566.4zM600.1 66.2H609.7V71.0H600.1zM528.0 71.0H532.8V75.8H528.0zM542.4 71.0H547.2V75.8H542.4zM566.4 71.0H614.5V75.8H566.4zM571.2 75.8H624.1V80.6H571.2zM552.0 80.6H556.8V85.4H552.0zM576.0 80.6H624.1V85.4H576.0zM576.0 85.4H628.9V90.2H576.0zM537.6 90.2H542.4V95.0H537.6zM580.9 90.2H633.8V95.0H580.9zM528.0 95.0H532.8V99.8H528.0zM547.2 95.0H552.0V99.8H547.2zM585.7 95.0H628.9V99.8H585.7zM484.7 99.8H499.1V104.7H484.7zM523.2 99.8H528.0V104.7H523.2zM580.9 99.8H633.8V104.7H580.9zM479.9 104.7H484.7V109.5H479.9zM528.0 104.7H532.8V109.5H528.0zM537.6 104.7H542.4V109.5H537.6zM552.0 104.7H556.8V109.5H552.0zM528.0 109.5H532.8V114.3H528.0zM542.4 109.5H547.2V114.3H542.4zM552.0 109.5H556.8V114.3H552.0zM552.0 114.3H556.8V119.1H552.0zM552.0 119.1H556.8V123.9H552.0zM494.3 123.9H499.1V128.7H494.3zM532.8 128.7H537.6V133.5H532.8zM494.3 133.5H513.5V138.3H494.3zM528.0 133.5H532.8V138.3H528.0zM475.1 138.3H479.9V143.1H475.1zM508.7 143.1H528.0V147.9H508.7zM494.3 147.9H499.1V152.8H494.3zM518.4 157.6H523.2V162.4H518.4zM518.4 162.4H523.2V167.2H518.4zM518.4 167.2H523.2V172.0H518.4zM494.3 172.0H499.1V176.8H494.3zM494.3 176.8H503.9V181.6H494.3zM499.1 181.6H503.9V186.4H499.1zM518.4 181.6H523.2V186.4H518.4z"/>
<path fill="rgb(35,139,140)" d="M566.4 75.8H571.2V80.6H566.4zM571.2 80.6H576.0V85.4H571.2zM571.2 85.4H576.0V90.2H571.2zM571.2 90.2H580.9V95.0H571.2zM576.0 95.0H585.7V99.8H576.0zM576.0 99.8H580.9V104.7H576.0zM489.5 104.7H494.3V109.5H489.5zM580.9 104.7H624.1V109.5H580.9zM580.9 109.5H624.1V114.3H580.9zM585.7 114.3H624.1V119.1H585.7zM489.5 119.1H494.3V123.9H489.5zM479.9 128.7H484.7V133.5H479.9zM489.5 128.7H494.3V133.5H489.5zM479.9 133.5H494.3V138.3H479.9z"/>
<path fill="rgb(33,145,140)" d="M552.0 61.4H556.8V66.2H552.0zM561.6 61.4H571.2V66.2H561.6zM537.6 66.2H542.4V71.0H537.6zM556.8 66.2H566.4V71.0H556.8zM561.6 71.0H566.4V75.8H561.6zM532.8 75.8H537.6V80.6H532.8zM542.4 75.8H547.2V80.6H542.4zM532.8 80.6H537.6V85.4H532.8zM542.4 80.6H547.2V85.4H542.4zM566.4 80.6H571.2V85.4H566.4zM542.4 85.4H547.2V90.2H542.4zM566.4 85.4H571.2V90.2H566.4zM528.0 90.2H532.8V95.0H528.0zM542.4 90.2H547.2V95.0H542.4zM566.4 90.2H571.2V95.0H566.4zM523.2 95.0H528.0V99.8H523.2zM537.6 95.0H547.2V99.8H537.6zM566.4 95.0H576.0V99.8H566.4zM537.6 99.8H547.2V104.7H537.6zM552.0 99.8H561.6V104.7H552.0zM571.2 99.8H576.0V104.7H571.2zM484.7 104.7H489.5V109.5H484.7zM542.4 104.7H547.2V109.5H542.4zM556.8 104.7H561.6V109.5H556.8zM571.2 104.7H580.9V109.5H571.2zM479.9 109.5H484.7V114.3H479.9zM489.5 109.5H494.3V114.3H489.5zM556.8 109.5H561.6V114.3H556.8zM479.9 114.3H484.7V119.1H479.9zM489.5 114.3H494.3V119.1H489.5zM528.0 114.3H532.8V119.1H528.0zM542.4 114.3H552.0V119.1H542.4zM556.8 114.3H561.6V119.1H556.8zM479.9 119.1H484.7V123.9H479.9zM523.2 119.1H532.8V123.9H523.2zM542.4 119.1H552.0V123.9H542.4zM556.8 119.1H561.6V123.9H556.8zM590.5 119.1H619.3V123.9H590.5zM479.9 123.9H484.7V128.7H479.9zM489.5 123.9H494.3V128.7H489.5zM484.7 128.7H489.5V133.5H484.7zM518.4 128.7H532.8V133.5H518.4zM479.9 138.3H513.5V143.1H479.9zM475.1 143.1H479.9V147.9H475.1zM489.5 152.8H494.3V157.6H489.5zM484.7 157.6H494.3V162.4H484.7zM489.5 172.0H494.3V176.8H489.5zM503.9 181.6H508.7V186.4H503.9zM494.3 186.4H503.9V191.2H494.3zM513.5 186.4H523.2V191.2H513.5z"/>
<path fill="rgb(33,151,138)" d="M528.0 61.4H532.8V66.2H528.0zM561.6 95.0H566.4V99.8H561.6zM561.6 99.8H571.2V104.7H561.6zM561.6 104.7H571.2V109.5H561.6zM561.6 109.5H580.9V114.3H561.6zM561.6 114.3H585.7V119.1H561.6zM484.7 119.1H489.5V123.9H484.7zM561.6 119.1H590.5V123.9H561.6zM528.0 123.9H532.8V128.7H528.0zM537.6 123.9H542.4V128.7H537.6zM547.2 123.9H561.6V128.7H547.2zM547.2 128.7H556.8V133.5H547.2zM552.0 133.5H561.6V138.3H552.0zM556.8 138.3H561.6V143.1H556.8zM528.0 143.1H532.8V147.9H528.0zM523.2 147.9H528.0V152.8H523.2zM523.2 157.6H528.0V162.4H523.2z"/>
<path fill="rgb(34,156,136)" d="M532.8 61.4H537.6V66.2H532.8zM547.2 61.4H552.0V66.2H547.2zM556.8 71.0H561.6V75.8H556.8zM561.6 75.8H566.4V80.6H561.6zM552.0 85.4H556.8V90.2H552.0zM523.2 90.2H528.0V95.0H523.2zM532.8 90.2H537.6V95.0H532.8zM556.8 95.0H561.6V99.8H556.8zM547.2 99.8H552.0V104.7H547.2zM484.7 109.5H489.5V114.3H484.7zM537.6 109.5H542.4V114.3H537.6zM484.7 114.3H489.5V119.1H484.7zM518.4 119.1H523.2V123.9H518.4zM484.7 123.9H489.5V128.7H484.7zM518.4 123.9H523.2V128.7H518.4zM561.6 123.9H619.3V128.7H561.6zM556.8 128.7H614.5V133.5H556.8zM561.6 133.5H609.7V138.3H561.6zM518.4 138.3H523.2V143.1H518.4zM561.6 138.3H604.9V143.1H561.6zM479.9 143.1H508.7V147.9H479.9zM556.8 143.1H595.3V147.9H556.8zM479.9 147.9H489.5V152.8H479.9zM556.8 147.9H590.5V152.8H556.8zM556.8 152.8H576.0V157.6H556.8zM552.0 157.6H561.6V162.4H552.0zM489.5 176.8H494.3V181.6H489.5zM489.5 181.6H494.3V186.4H489.5zM489.5 186.4H494.3V191.2H489.5zM503.9 186.4H508.7V191.2H503.9zM518.4 191.2H523.2V196.0H518.4zM518.4 196.0H523.2V200.9H518.4z"/>
<path fill="rgb(34,162,134)" d="M523.2 123.9H528.0V128.7H523.2zM542.4 123.9H547.2V128.7H542.4zM537.6 128.7H542.4V133.5H537.6zM547.2 133.5H552.0V138.3H547.2zM547.2 138.3H556.8V143.1H547.2zM552.0 143.1H556.8V147.9H552.0zM552.0 147.9H556.8V152.8H552.0zM523.2 152.8H528.0V157.6H523.2zM552.0 152.8H556.8V157.6H552.0zM547.2 157.6H552.0V162.4H547.2zM523.2 162.4H528.0V167.2H523.2zM547.2 162.4H552.0V167.2H547.2zM523.2 167.2H528.0V172.0H523.2zM542.4 167.2H547.2V172.0H542.4zM523.2 172.0H528.0V176.8H523.2zM537.6 172.0H542.4V176.8H537.6zM523.2 176.8H528.0V181.6H523.2z"/>
<path fill="rgb(34,168,132)" d="M532.8 71.0H537.6V75.8H532.8zM528.0 85.4H537.6V90.2H528.0zM552.0 90.2H556.8V95.0H552.0zM561.6 90.2H566.4V95.0H561.6zM532.8 95.0H537.6V99.8H532.8zM532.8 99.8H537.6V104.7H532.8zM547.2 104.7H552.0V109.5H547.2zM547.2 109.5H552.0V114.3H547.2zM537.6 114.3H542.4V119.1H537.6zM537.6 119.1H542.4V123.9H537.6zM542.4 152.8H552.0V157.6H542.4zM542.4 157.6H547.2V162.4H542.4zM542.4 162.4H547.2V167.2H542.4zM537.6 167.2H542.4V172.0H537.6zM508.7 186.4H513.5V191.2H508.7zM489.5 191.2H494.3V196.0H489.5zM513.5 200.9H518.4V205.7H513.5zM508.7 210.5H513.5V215.3H508.7z"/>
<path fill="rgb(42,174,127)" d="M532.8 123.9H537.6V128.7H532.8zM537.6 133.5H542.4V138.3H537.6zM537.6 138.3H542.4V143.1H537.6zM542.4 143.1H552.0V147.9H542.4zM528.0 147.9H532.8V152.8H528.0zM542.4 147.9H552.0V152.8H542.4zM528.0 152.8H532.8V157.6H528.0zM537.6 152.8H542.4V157.6H537.6zM528.0 157.6H542.4V162.4H528.0zM528.0 162.4H542.4V167.2H528.0zM528.0 167.2H537.6V172.0H528.0zM532.8 172.0H537.6V176.8H532.8zM537.6 176.8H542.4V181.6H537.6zM523.2 181.6H528.0V186.4H523.2zM537.6 181.6H542.4V186.4H537.6zM532.8 191.2H537.6V196.0H532.8z"/>
<path fill="rgb(51,180,122)" d="M528.0 75.8H532.8V80.6H528.0zM556.8 75.8H561.6V80.6H556.8zM556.8 80.6H566.4V85.4H556.8zM561.6 85.4H566.4V90.2H561.6zM552.0 95.0H556.8V99.8H552.0zM532.8 104.7H537.6V109.5H532.8zM532.8 119.1H537.6V123.9H532.8zM537.6 147.9H542.4V152.8H537.6zM532.8 152.8H537.6V157.6H532.8zM528.0 172.0H532.8V176.8H528.0zM523.2 186.4H528.0V191.2H523.2zM484.7 191.2H489.5V196.0H484.7zM494.3 191.2H499.1V196.0H494.3zM513.5 191.2H518.4V196.0H513.5zM523.2 191.2H528.0V196.0H523.2zM523.2 196.0H528.0V200.9H523.2zM518.4 200.9H523.2V205.7H518.4zM508.7 205.7H518.4V210.5H508.7zM528.0 205.7H532.8V210.5H528.0zM523.2 210.5H528.0V215.3H523.2z"/>
<path fill="rgb(60,185,117)" d="M556.8 90.2H561.6V95.0H556.8zM542.4 128.7H547.2V133.5H542.4zM523.2 133.5H528.0V138.3H523.2zM542.4 133.5H547.2V138.3H542.4zM542.4 138.3H547.2V143.1H542.4zM532.8 143.1H537.6V147.9H532.8zM532.8 147.9H537.6V152.8H532.8zM528.0 176.8H537.6V181.6H528.0zM532.8 186.4H537.6V191.2H532.8zM523.2 200.9H528.0V205.7H523.2z"/>
<path fill="rgb(68,191,112)" d="M537.6 85.4H542.4V90.2H537.6zM556.8 85.4H561.6V90.2H556.8zM532.8 114.3H537.6V119.1H532.8zM537.6 143.1H542.4V147.9H537.6zM528.0 181.6H537.6V186.4H528.0zM479.9 191.2H484.7V196.0H479.9zM528.0 191.2H532.8V196.0H528.0zM494.3 196.0H499.1V200.9H494.3zM508.7 196.0H513.5V200.9H508.7zM528.0 196.0H532.8V200.9H528.0zM528.0 200.9H532.8V205.7H528.0zM523.2 205.7H528.0V210.5H523.2zM513.5 210.5H518.4V215.3H513.5z"/>
<path fill="rgb(82,196,104)" d="M528.0 186.4H532.8V191.2H528.0z"/>
<path fill="rgb(95,200,96)" d="M499.1 191.2H508.7V196.0H499.1zM489.5 196.0H494.3V200.9H489.5zM499.1 200.9H503.9V205.7H499.1zM513.5 215.3H518.4V220.1H513.5z"/>
<path fill="rgb(122,209,81)" d="M537.6 71.0H542.4V75.8H537.6zM528.0 80.6H532.8V85.4H528.0zM532.8 109.5H537.6V114.3H532.8zM508.7 191.2H513.5V196.0H508.7zM499.1 196.0H503.9V200.9H499.1zM508.7 200.9H513.5V205.7H508.7zM518.4 205.7H523.2V210.5H518.4zM518.4 215.3H523.2V220.1H518.4z"/>
<path fill="rgb(139,212,70)" d="M503.9 200.9H508.7V205.7H503.9z"/>
<path fill="rgb(156,216,60)" d="M484.7 196.0H489.5V200.9H484.7zM503.9 196.0H508.7V200.9H503.9zM513.5 196.0H518.4V200.9H513.5zM518.4 210.5H523.2V215.3H518.4z"/>
<path fill="rgb(253,231,37)" d="M537.6 75.8H542.4V80.6H537.6zM537.6 80.6H542.4V85.4H537.6zM479.9 200.9H484.7V205.7H479.9z"/>
<rect x="460.6" y="32.5" width="173.1" height="187.6" fill="none" stroke="#000" stroke-width="1" shape-rendering="geometricPrecision"/>
<text class="ax" transform="translate(465.5,233.5) scale(.84,1)" text-anchor="middle">-81</text>
<text class="ax" transform="translate(494.3,233.5) scale(.84,1)" text-anchor="middle">-80</text>
<text class="ax" transform="translate(523.2,233.5) scale(.84,1)" text-anchor="middle">-79</text>
<text class="ax" transform="translate(552.0,233.5) scale(.84,1)" text-anchor="middle">-78</text>
<text class="ax" transform="translate(580.9,233.5) scale(.84,1)" text-anchor="middle">-77</text>
<text class="ax" transform="translate(609.7,233.5) scale(.84,1)" text-anchor="middle">-76</text>
<text class="ax" transform="translate(455.2,46.9) rotate(-90) scale(.84,1)" text-anchor="middle">1</text>
<text class="ax" transform="translate(455.2,75.8) rotate(-90) scale(.84,1)" text-anchor="middle">0</text>
<text class="ax" transform="translate(455.2,104.7) rotate(-90) scale(.84,1)" text-anchor="middle">-1</text>
<text class="ax" transform="translate(455.2,133.5) rotate(-90) scale(.84,1)" text-anchor="middle">-2</text>
<text class="ax" transform="translate(455.2,162.4) rotate(-90) scale(.84,1)" text-anchor="middle">-3</text>
<text class="ax" transform="translate(455.2,191.2) rotate(-90) scale(.84,1)" text-anchor="middle">-4</text>
<text class="ax" transform="translate(455.2,220.1) rotate(-90) scale(.84,1)" text-anchor="middle">-5</text>
<path d="M465.5 220.1v3.8M494.3 220.1v3.8M523.2 220.1v3.8M552.0 220.1v3.8M580.9 220.1v3.8M609.7 220.1v3.8M460.6 46.9h-3.8M460.6 75.8h-3.8M460.6 104.7h-3.8M460.6 133.5h-3.8M460.6 162.4h-3.8M460.6 191.2h-3.8M460.6 220.1h-3.8" stroke="#000" stroke-width="1" fill="none" shape-rendering="geometricPrecision"/>
<text class="ti" x="547.2" y="25.9" text-anchor="middle">bio7</text>
<rect x="643.5" y="32.5" width="9.6" height="187.6" fill="url(#vg)" stroke="#000" stroke-width="1" shape-rendering="geometricPrecision"/>
<text class="lg" x="659.4" y="44.7">160</text>
<text class="lg" x="659.4" y="89.0">140</text>
<text class="lg" x="659.4" y="133.2">120</text>
<text class="lg" x="659.4" y="177.4">100</text>
<text class="lg" x="659.4" y="221.7">80</text>
<path d="M643.5 43.0h12.5M643.5 87.2h12.5M643.5 131.5h12.5M643.5 175.8h12.5M643.5 220.0h12.5" stroke="#000" stroke-width="1" fill="none" shape-rendering="geometricPrecision"/></g>
<g><path fill="rgb(69,10,92)" d="M99.2 301.4H108.8V306.2H99.2zM89.6 339.8H94.4V344.7H89.6zM22.3 344.7H27.1V349.5H22.3zM84.8 344.7H94.4V349.5H84.8zM84.8 349.5H89.6V354.3H84.8zM17.5 378.3H27.1V383.1H17.5zM70.4 412.0H75.2V416.8H70.4z"/>
<path fill="rgb(70,18,100)" d="M89.6 335.0H94.4V339.8H89.6zM80.0 339.8H89.6V344.7H80.0zM80.0 344.7H84.8V349.5H80.0zM22.3 349.5H27.1V354.3H22.3zM80.0 349.5H84.8V354.3H80.0zM22.3 354.3H27.1V359.1H22.3zM80.0 373.5H89.6V378.3H80.0zM80.0 378.3H84.8V383.1H80.0zM70.4 402.4H75.2V407.2H70.4zM70.4 407.2H75.2V412.0H70.4zM65.5 412.0H70.4V416.8H65.5z"/>
<path fill="rgb(71,27,109)" d="M99.2 296.6H108.8V301.4H99.2zM99.2 306.2H108.8V311.0H99.2zM80.0 335.0H84.8V339.8H80.0zM94.4 339.8H99.2V344.7H94.4zM94.4 344.7H99.2V349.5H94.4zM89.6 349.5H94.4V354.3H89.6zM80.0 354.3H89.6V359.1H80.0zM22.3 359.1H27.1V363.9H22.3zM80.0 359.1H89.6V363.9H80.0zM22.3 363.9H27.1V368.7H22.3zM80.0 363.9H89.6V368.7H80.0zM80.0 368.7H84.8V373.5H80.0zM75.2 378.3H80.0V383.1H75.2zM84.8 378.3H89.6V383.1H84.8zM75.2 387.9H80.0V392.8H75.2zM70.4 392.8H75.2V397.6H70.4zM70.4 397.6H80.0V402.4H70.4zM65.5 402.4H70.4V407.2H65.5zM65.5 407.2H70.4V412.0H65.5zM41.5 412.0H46.3V416.8H41.5zM65.5 416.8H75.2V421.6H65.5z"/>
<path fill="rgb(72,36,117)" d="M108.8 291.7H113.6V296.6H108.8zM108.8 296.6H113.6V301.4H108.8zM108.8 301.4H113.6V306.2H108.8zM89.6 311.0H99.2V315.8H89.6zM94.4 325.4H99.2V330.2H94.4zM94.4 330.2H99.2V335.0H94.4zM84.8 335.0H89.6V339.8H84.8zM94.4 335.0H99.2V339.8H94.4zM27.1 344.7H31.9V349.5H27.1zM75.2 349.5H80.0V354.3H75.2zM75.2 354.3H80.0V359.1H75.2zM75.2 359.1H80.0V363.9H75.2zM75.2 363.9H80.0V368.7H75.2zM84.8 368.7H89.6V373.5H84.8zM75.2 383.1H84.8V387.9H75.2zM70.4 387.9H75.2V392.8H70.4zM65.5 392.8H70.4V397.6H65.5zM75.2 392.8H80.0V397.6H75.2zM36.7 397.6H41.5V402.4H36.7zM65.5 397.6H70.4V402.4H65.5zM75.2 402.4H80.0V407.2H75.2zM70.4 421.6H75.2V426.4H70.4z"/>
<path fill="rgb(70,44,122)" d="M99.2 291.7H108.8V296.6H99.2zM94.4 296.6H99.2V301.4H94.4zM89.6 315.8H94.4V320.6H89.6zM94.4 320.6H99.2V325.4H94.4zM80.0 330.2H89.6V335.0H80.0zM27.1 373.5H31.9V378.3H27.1zM75.2 373.5H80.0V378.3H75.2zM27.1 378.3H31.9V383.1H27.1zM27.1 383.1H36.7V387.9H27.1zM70.4 383.1H75.2V387.9H70.4zM31.9 387.9H41.5V392.8H31.9zM65.5 387.9H70.4V392.8H65.5zM41.5 392.8H46.3V397.6H41.5zM41.5 397.6H46.3V402.4H41.5zM60.7 402.4H65.5V407.2H60.7zM46.3 407.2H51.1V412.0H46.3zM60.7 407.2H65.5V412.0H60.7zM75.2 407.2H80.0V412.0H75.2zM60.7 412.0H65.5V416.8H60.7zM65.5 421.6H70.4V426.4H65.5zM60.7 450.5H65.5V455.3H60.7z"/>
<path fill="rgb(68,52,126)" d="M94.4 301.4H99.2V306.2H94.4zM94.4 306.2H99.2V311.0H94.4zM108.8 306.2H113.6V311.0H108.8zM99.2 311.0H108.8V315.8H99.2zM94.4 315.8H99.2V320.6H94.4zM89.6 320.6H94.4V325.4H89.6zM84.8 325.4H94.4V330.2H84.8zM31.9 330.2H36.7V335.0H31.9zM89.6 330.2H94.4V335.0H89.6zM31.9 335.0H36.7V339.8H31.9zM75.2 335.0H80.0V339.8H75.2zM75.2 339.8H80.0V344.7H75.2zM75.2 344.7H80.0V349.5H75.2zM27.1 349.5H31.9V354.3H27.1zM94.4 349.5H99.2V354.3H94.4zM89.6 354.3H94.4V359.1H89.6zM27.1 368.7H31.9V373.5H27.1zM75.2 368.7H80.0V373.5H75.2zM89.6 373.5H94.4V378.3H89.6zM70.4 378.3H75.2V383.1H70.4zM36.7 383.1H41.5V387.9H36.7zM80.0 387.9H84.8V392.8H80.0zM60.7 392.8H65.5V397.6H60.7zM60.7 397.6H65.5V402.4H60.7zM55.9 402.4H60.7V407.2H55.9zM51.1 407.2H55.9V412.0H51.1zM46.3 412.0H51.1V416.8H46.3zM75.2 412.0H80.0V416.8H75.2zM60.7 416.8H65.5V421.6H60.7zM65.5 426.4H75.2V431.2H65.5zM65.5 450.5H70.4V455.3H65.5z"/>
<path fill="rgb(67,60,130)" d="M89.6 306.2H94.4V311.0H89.6zM31.9 325.4H36.7V330.2H31.9zM31.9 339.8H36.7V344.7H31.9zM31.9 378.3H36.7V383.1H31.9zM55.9 407.2H60.7V412.0H55.9zM60.7 421.6H65.5V426.4H60.7zM65.5 431.2H70.4V436.0H65.5zM65.5 445.7H70.4V450.5H65.5z"/>
<path fill="rgb(65,68,135)" d="M113.6 296.6H118.4V301.4H113.6zM89.6 301.4H94.4V306.2H89.6zM108.8 311.0H113.6V315.8H108.8zM99.2 315.8H108.8V320.6H99.2zM84.8 320.6H89.6V325.4H84.8zM99.2 320.6H104.0V325.4H99.2zM99.2 325.4H104.0V330.2H99.2zM27.1 354.3H31.9V359.1H27.1zM89.6 359.1H94.4V363.9H89.6zM27.1 363.9H31.9V368.7H27.1zM89.6 363.9H94.4V368.7H89.6zM70.4 368.7H75.2V373.5H70.4zM89.6 368.7H94.4V373.5H89.6zM31.9 373.5H36.7V378.3H31.9zM70.4 373.5H75.2V378.3H70.4zM36.7 378.3H41.5V383.1H36.7zM89.6 378.3H94.4V383.1H89.6zM41.5 383.1H46.3V387.9H41.5zM65.5 383.1H70.4V387.9H65.5zM60.7 387.9H65.5V392.8H60.7zM80.0 392.8H84.8V397.6H80.0zM55.9 397.6H60.7V402.4H55.9zM80.0 397.6H84.8V402.4H80.0zM51.1 402.4H55.9V407.2H51.1zM80.0 402.4H84.8V407.2H80.0zM51.1 412.0H60.7V416.8H51.1zM41.5 416.8H46.3V421.6H41.5zM75.2 416.8H80.0V421.6H75.2zM60.7 426.4H65.5V431.2H60.7zM60.7 431.2H65.5V436.0H60.7zM70.4 431.2H75.2V436.0H70.4zM65.5 436.0H75.2V440.9H65.5zM65.5 440.9H75.2V445.7H65.5zM70.4 445.7H75.2V450.5H70.4zM70.4 450.5H80.0V455.3H70.4zM65.5 455.3H70.4V460.1H65.5z"/>
<path fill="rgb(62,75,136)" d="M113.6 301.4H118.4V306.2H113.6zM104.0 320.6H108.8V325.4H104.0zM94.4 354.3H99.2V359.1H94.4zM41.5 378.3H46.3V383.1H41.5zM31.9 440.9H36.7V445.7H31.9z"/>
<path fill="rgb(59,82,138)" d="M51.1 286.9H55.9V291.7H51.1zM94.4 291.7H99.2V296.6H94.4zM89.6 296.6H94.4V301.4H89.6zM84.8 315.8H89.6V320.6H84.8zM108.8 315.8H113.6V320.6H108.8zM36.7 325.4H41.5V330.2H36.7zM80.0 325.4H84.8V330.2H80.0zM36.7 330.2H41.5V335.0H36.7zM99.2 330.2H104.0V335.0H99.2zM31.9 344.7H36.7V349.5H31.9zM27.1 359.1H31.9V363.9H27.1zM70.4 363.9H75.2V368.7H70.4zM31.9 368.7H36.7V373.5H31.9zM36.7 373.5H41.5V378.3H36.7zM46.3 383.1H51.1V387.9H46.3zM84.8 383.1H89.6V387.9H84.8zM46.3 387.9H51.1V392.8H46.3zM46.3 392.8H51.1V397.6H46.3zM55.9 392.8H60.7V397.6H55.9zM51.1 397.6H55.9V402.4H51.1zM80.0 407.2H84.8V412.0H80.0zM55.9 416.8H60.7V421.6H55.9zM75.2 421.6H80.0V426.4H75.2zM60.7 436.0H65.5V440.9H60.7zM60.7 440.9H65.5V445.7H60.7zM60.7 445.7H65.5V450.5H60.7zM75.2 445.7H80.0V450.5H75.2z"/>
<path fill="rgb(56,88,140)" d="M36.7 320.6H41.5V325.4H36.7zM36.7 335.0H41.5V339.8H36.7zM94.4 359.1H99.2V363.9H94.4zM41.5 373.5H46.3V378.3H41.5zM46.3 378.3H51.1V383.1H46.3zM51.1 383.1H55.9V387.9H51.1zM51.1 387.9H60.7V392.8H51.1zM51.1 392.8H55.9V397.6H51.1zM80.0 412.0H84.8V416.8H80.0zM46.3 416.8H51.1V421.6H46.3zM75.2 440.9H80.0V445.7H75.2z"/>
<path fill="rgb(53,95,141)" d="M89.6 291.7H94.4V296.6H89.6zM84.8 311.0H89.6V315.8H84.8zM41.5 315.8H46.3V320.6H41.5zM41.5 320.6H46.3V325.4H41.5zM104.0 325.4H108.8V330.2H104.0zM75.2 330.2H80.0V335.0H75.2zM99.2 335.0H104.0V339.8H99.2zM36.7 339.8H41.5V344.7H36.7zM31.9 349.5H36.7V354.3H31.9zM70.4 354.3H75.2V359.1H70.4zM70.4 359.1H75.2V363.9H70.4zM31.9 363.9H36.7V368.7H31.9zM36.7 368.7H46.3V373.5H36.7zM46.3 373.5H51.1V378.3H46.3zM51.1 378.3H55.9V383.1H51.1zM65.5 378.3H70.4V383.1H65.5zM55.9 383.1H65.5V387.9H55.9zM84.8 387.9H89.6V392.8H84.8zM51.1 416.8H55.9V421.6H51.1zM55.9 421.6H60.7V426.4H55.9zM55.9 426.4H60.7V431.2H55.9zM75.2 426.4H80.0V431.2H75.2zM31.9 431.2H36.7V436.0H31.9zM55.9 431.2H60.7V436.0H55.9zM75.2 431.2H80.0V436.0H75.2zM55.9 436.0H60.7V440.9H55.9zM75.2 436.0H80.0V440.9H75.2zM55.9 440.9H60.7V445.7H55.9zM70.4 455.3H75.2V460.1H70.4z"/>
<path fill="rgb(48,108,142)" d="M55.9 286.9H60.7V291.7H55.9zM84.8 301.4H89.6V306.2H84.8zM118.4 301.4H123.2V306.2H118.4zM84.8 306.2H89.6V311.0H84.8zM41.5 325.4H46.3V330.2H41.5zM41.5 330.2H46.3V335.0H41.5zM99.2 339.8H104.0V344.7H99.2zM70.4 349.5H75.2V354.3H70.4zM31.9 354.3H36.7V359.1H31.9zM31.9 359.1H36.7V363.9H31.9zM36.7 363.9H46.3V368.7H36.7zM46.3 368.7H51.1V373.5H46.3zM51.1 373.5H55.9V378.3H51.1zM55.9 378.3H60.7V383.1H55.9zM113.6 392.8H128.1V397.6H113.6zM108.8 397.6H113.6V402.4H108.8zM80.0 416.8H84.8V421.6H80.0zM41.5 421.6H46.3V426.4H41.5zM80.0 445.7H84.8V450.5H80.0z"/>
<path fill="rgb(45,114,142)" d="M41.5 291.7H51.1V296.6H41.5zM128.1 383.1H147.3V387.9H128.1zM113.6 387.9H142.5V392.8H113.6zM46.3 421.6H55.9V426.4H46.3zM51.1 440.9H55.9V445.7H51.1z"/>
<path fill="rgb(42,120,142)" d="M94.4 286.9H99.2V291.7H94.4zM51.1 291.7H55.9V296.6H51.1zM84.8 296.6H89.6V301.4H84.8zM113.6 306.2H118.4V311.0H113.6zM46.3 311.0H51.1V315.8H46.3zM46.3 315.8H51.1V320.6H46.3zM46.3 320.6H51.1V325.4H46.3zM80.0 320.6H84.8V325.4H80.0zM108.8 320.6H113.6V325.4H108.8zM104.0 330.2H108.8V335.0H104.0zM41.5 335.0H46.3V339.8H41.5zM36.7 344.7H41.5V349.5H36.7zM46.3 363.9H51.1V368.7H46.3zM94.4 363.9H99.2V368.7H94.4zM65.5 373.5H70.4V378.3H65.5zM132.9 373.5H161.7V378.3H132.9zM60.7 378.3H65.5V383.1H60.7zM128.1 378.3H156.9V383.1H128.1zM123.2 383.1H128.1V387.9H123.2zM84.8 392.8H89.6V397.6H84.8zM108.8 392.8H113.6V397.6H108.8zM84.8 402.4H89.6V407.2H84.8zM80.0 421.6H84.8V426.4H80.0zM36.7 436.0H41.5V440.9H36.7zM80.0 440.9H84.8V445.7H80.0z"/>
<path fill="rgb(40,126,142)" d="M60.7 286.9H65.5V291.7H60.7zM51.1 426.4H55.9V431.2H51.1zM51.1 436.0H55.9V440.9H51.1zM80.0 436.0H84.8V440.9H80.0z"/>
<path fill="rgb(38,132,141)" d="M70.4 282.1H75.2V286.9H70.4zM55.9 291.7H60.7V296.6H55.9zM84.8 291.7H89.6V296.6H84.8zM46.3 296.6H51.1V301.4H46.3zM46.3 301.4H51.1V306.2H46.3zM46.3 306.2H51.1V311.0H46.3zM147.3 315.8H176.1V320.6H147.3zM147.3 320.6H176.1V325.4H147.3zM46.3 325.4H51.1V330.2H46.3zM142.5 325.4H176.1V330.2H142.5zM46.3 330.2H51.1V335.0H46.3zM142.5 330.2H180.9V335.0H142.5zM142.5 335.0H171.3V339.8H142.5zM41.5 339.8H46.3V344.7H41.5zM137.7 339.8H176.1V344.7H137.7zM70.4 344.7H75.2V349.5H70.4zM99.2 344.7H104.0V349.5H99.2zM137.7 344.7H176.1V349.5H137.7zM36.7 349.5H41.5V354.3H36.7zM137.7 349.5H176.1V354.3H137.7zM36.7 354.3H41.5V359.1H36.7zM137.7 354.3H176.1V359.1H137.7zM36.7 359.1H46.3V363.9H36.7zM137.7 359.1H171.3V363.9H137.7zM132.9 363.9H171.3V368.7H132.9zM51.1 368.7H55.9V373.5H51.1zM65.5 368.7H70.4V373.5H65.5zM94.4 368.7H99.2V373.5H94.4zM132.9 368.7H166.5V373.5H132.9zM55.9 373.5H65.5V378.3H55.9zM94.4 373.5H99.2V378.3H94.4zM128.1 373.5H132.9V378.3H128.1zM123.2 378.3H128.1V383.1H123.2zM118.4 383.1H123.2V387.9H118.4zM108.8 387.9H113.6V392.8H108.8zM84.8 397.6H89.6V402.4H84.8zM84.8 407.2H89.6V412.0H84.8zM41.5 426.4H51.1V431.2H41.5zM80.0 426.4H84.8V431.2H80.0zM36.7 431.2H41.5V436.0H36.7zM51.1 431.2H55.9V436.0H51.1zM80.0 431.2H84.8V436.0H80.0zM41.5 436.0H51.1V440.9H41.5z"/>
<path fill="rgb(35,139,140)" d="M142.5 320.6H147.3V325.4H142.5zM137.7 330.2H142.5V335.0H137.7zM137.7 335.0H142.5V339.8H137.7zM171.3 335.0H180.9V339.8H171.3zM132.9 344.7H137.7V349.5H132.9zM132.9 349.5H137.7V354.3H132.9zM132.9 354.3H137.7V359.1H132.9zM132.9 359.1H137.7V363.9H132.9zM128.1 368.7H132.9V373.5H128.1zM123.2 373.5H128.1V378.3H123.2zM104.0 397.6H108.8V402.4H104.0z"/>
<path fill="rgb(33,145,140)" d="M75.2 277.3H80.0V282.1H75.2zM75.2 282.1H84.8V286.9H75.2zM65.5 286.9H70.4V291.7H65.5zM80.0 286.9H84.8V291.7H80.0zM89.6 286.9H94.4V291.7H89.6zM60.7 291.7H65.5V296.6H60.7zM75.2 291.7H84.8V296.6H75.2zM51.1 296.6H55.9V301.4H51.1zM80.0 296.6H84.8V301.4H80.0zM80.0 301.4H84.8V306.2H80.0zM80.0 306.2H84.8V311.0H80.0zM51.1 311.0H55.9V315.8H51.1zM80.0 311.0H84.8V315.8H80.0zM113.6 311.0H118.4V315.8H113.6zM142.5 311.0H166.5V315.8H142.5zM51.1 315.8H55.9V320.6H51.1zM80.0 315.8H84.8V320.6H80.0zM142.5 315.8H147.3V320.6H142.5zM75.2 325.4H80.0V330.2H75.2zM108.8 325.4H113.6V330.2H108.8zM137.7 325.4H142.5V330.2H137.7zM176.1 325.4H180.9V330.2H176.1zM180.9 330.2H185.8V335.0H180.9zM46.3 335.0H51.1V339.8H46.3zM132.9 335.0H137.7V339.8H132.9zM46.3 339.8H51.1V344.7H46.3zM132.9 339.8H137.7V344.7H132.9zM176.1 339.8H185.8V344.7H176.1zM41.5 344.7H46.3V349.5H41.5zM41.5 349.5H46.3V354.3H41.5zM128.1 349.5H132.9V354.3H128.1zM41.5 354.3H51.1V359.1H41.5zM128.1 354.3H132.9V359.1H128.1zM46.3 359.1H51.1V363.9H46.3zM128.1 359.1H132.9V363.9H128.1zM51.1 363.9H55.9V368.7H51.1zM65.5 363.9H70.4V368.7H65.5zM128.1 363.9H132.9V368.7H128.1zM55.9 368.7H60.7V373.5H55.9zM123.2 368.7H128.1V373.5H123.2zM94.4 378.3H99.2V383.1H94.4zM118.4 378.3H123.2V383.1H118.4zM89.6 383.1H94.4V387.9H89.6zM113.6 383.1H118.4V387.9H113.6zM84.8 412.0H89.6V416.8H84.8zM41.5 431.2H51.1V436.0H41.5z"/>
<path fill="rgb(33,151,138)" d="M75.2 286.9H80.0V291.7H75.2zM137.7 311.0H142.5V315.8H137.7zM137.7 320.6H142.5V325.4H137.7zM132.9 330.2H137.7V335.0H132.9zM128.1 335.0H132.9V339.8H128.1zM128.1 339.8H132.9V344.7H128.1zM46.3 344.7H51.1V349.5H46.3zM128.1 344.7H132.9V349.5H128.1zM46.3 349.5H51.1V354.3H46.3zM123.2 359.1H128.1V363.9H123.2zM123.2 363.9H128.1V368.7H123.2zM118.4 373.5H123.2V378.3H118.4zM104.0 392.8H108.8V397.6H104.0z"/>
<path fill="rgb(34,156,136)" d="M80.0 277.3H84.8V282.1H80.0zM84.8 282.1H89.6V286.9H84.8zM70.4 286.9H75.2V291.7H70.4zM84.8 286.9H89.6V291.7H84.8zM55.9 296.6H60.7V301.4H55.9zM51.1 301.4H55.9V306.2H51.1zM51.1 306.2H55.9V311.0H51.1zM118.4 306.2H142.5V311.0H118.4zM152.1 306.2H161.7V311.0H152.1zM118.4 311.0H137.7V315.8H118.4zM113.6 315.8H118.4V320.6H113.6zM137.7 315.8H142.5V320.6H137.7zM51.1 320.6H55.9V325.4H51.1zM51.1 325.4H55.9V330.2H51.1zM132.9 325.4H137.7V330.2H132.9zM51.1 330.2H55.9V335.0H51.1zM128.1 330.2H132.9V335.0H128.1zM51.1 335.0H55.9V339.8H51.1zM104.0 335.0H108.8V339.8H104.0zM51.1 339.8H55.9V344.7H51.1zM70.4 339.8H75.2V344.7H70.4zM51.1 344.7H55.9V349.5H51.1zM51.1 349.5H55.9V354.3H51.1zM123.2 349.5H128.1V354.3H123.2zM51.1 354.3H55.9V359.1H51.1zM123.2 354.3H128.1V359.1H123.2zM51.1 359.1H55.9V363.9H51.1zM65.5 359.1H70.4V363.9H65.5zM118.4 363.9H123.2V368.7H118.4zM60.7 368.7H65.5V373.5H60.7zM118.4 368.7H123.2V373.5H118.4zM113.6 378.3H118.4V383.1H113.6zM89.6 387.9H94.4V392.8H89.6zM99.2 402.4H104.0V407.2H99.2zM84.8 416.8H89.6V421.6H84.8zM84.8 421.6H89.6V426.4H84.8zM84.8 431.2H89.6V436.0H84.8z"/>
<path fill="rgb(34,162,134)" d="M132.9 320.6H137.7V325.4H132.9zM128.1 325.4H132.9V330.2H128.1zM123.2 335.0H128.1V339.8H123.2zM123.2 339.8H128.1V344.7H123.2zM123.2 344.7H128.1V349.5H123.2zM118.4 359.1H123.2V363.9H118.4zM113.6 373.5H118.4V378.3H113.6zM84.8 426.4H89.6V431.2H84.8z"/>
<path fill="rgb(34,168,132)" d="M65.5 291.7H75.2V296.6H65.5zM60.7 296.6H65.5V301.4H60.7zM75.2 296.6H80.0V301.4H75.2zM55.9 301.4H60.7V306.2H55.9zM123.2 315.8H128.1V320.6H123.2zM132.9 315.8H137.7V320.6H132.9zM113.6 320.6H118.4V325.4H113.6zM123.2 320.6H128.1V325.4H123.2zM123.2 325.4H128.1V330.2H123.2zM108.8 330.2H113.6V335.0H108.8zM123.2 330.2H128.1V335.0H123.2zM70.4 335.0H75.2V339.8H70.4zM99.2 349.5H104.0V354.3H99.2zM65.5 354.3H70.4V359.1H65.5zM118.4 354.3H123.2V359.1H118.4zM55.9 363.9H60.7V368.7H55.9zM113.6 368.7H118.4V373.5H113.6zM108.8 378.3H113.6V383.1H108.8zM94.4 383.1H99.2V387.9H94.4zM108.8 383.1H113.6V387.9H108.8zM94.4 387.9H99.2V392.8H94.4zM104.0 387.9H108.8V392.8H104.0zM89.6 392.8H94.4V397.6H89.6zM89.6 397.6H94.4V402.4H89.6zM89.6 402.4H94.4V407.2H89.6z"/>
<path fill="rgb(42,174,127)" d="M55.9 306.2H60.7V311.0H55.9zM128.1 315.8H132.9V320.6H128.1zM128.1 320.6H132.9V325.4H128.1zM118.4 349.5H123.2V354.3H118.4zM113.6 363.9H118.4V368.7H113.6zM99.2 378.3H104.0V383.1H99.2zM99.2 397.6H104.0V402.4H99.2z"/>
<path fill="rgb(51,180,122)" d="M70.4 296.6H75.2V301.4H70.4zM60.7 301.4H65.5V306.2H60.7zM75.2 301.4H80.0V306.2H75.2zM55.9 311.0H60.7V315.8H55.9zM70.4 330.2H75.2V335.0H70.4zM104.0 339.8H108.8V344.7H104.0zM118.4 339.8H123.2V344.7H118.4zM118.4 344.7H123.2V349.5H118.4zM99.2 373.5H104.0V378.3H99.2zM108.8 373.5H113.6V378.3H108.8zM99.2 383.1H108.8V387.9H99.2zM94.4 392.8H99.2V397.6H94.4zM94.4 397.6H99.2V402.4H94.4zM89.6 407.2H94.4V412.0H89.6zM89.6 421.6H94.4V426.4H89.6z"/>
<path fill="rgb(60,185,117)" d="M113.6 359.1H118.4V363.9H113.6zM99.2 363.9H104.0V368.7H99.2zM89.6 412.0H94.4V416.8H89.6z"/>
<path fill="rgb(68,191,112)" d="M89.6 282.1H94.4V286.9H89.6zM65.5 296.6H70.4V301.4H65.5zM70.4 301.4H75.2V306.2H70.4zM60.7 306.2H65.5V311.0H60.7zM75.2 306.2H80.0V311.0H75.2zM118.4 315.8H123.2V320.6H118.4zM75.2 320.6H80.0V325.4H75.2zM55.9 325.4H60.7V330.2H55.9zM70.4 325.4H75.2V330.2H70.4zM113.6 325.4H118.4V330.2H113.6zM55.9 330.2H60.7V335.0H55.9zM118.4 330.2H123.2V335.0H118.4zM55.9 335.0H60.7V339.8H55.9zM118.4 335.0H123.2V339.8H118.4zM55.9 339.8H60.7V344.7H55.9zM55.9 344.7H60.7V349.5H55.9zM55.9 349.5H60.7V354.3H55.9zM55.9 354.3H60.7V359.1H55.9zM113.6 354.3H118.4V359.1H113.6zM55.9 359.1H60.7V363.9H55.9zM60.7 363.9H65.5V368.7H60.7zM99.2 368.7H104.0V373.5H99.2zM108.8 368.7H113.6V373.5H108.8zM104.0 378.3H108.8V383.1H104.0zM99.2 392.8H104.0V397.6H99.2zM94.4 402.4H99.2V407.2H94.4zM94.4 407.2H99.2V412.0H94.4zM89.6 416.8H94.4V421.6H89.6z"/>
<path fill="rgb(82,196,104)" d="M118.4 320.6H123.2V325.4H118.4zM118.4 325.4H123.2V330.2H118.4zM65.5 349.5H70.4V354.3H65.5zM113.6 349.5H118.4V354.3H113.6zM108.8 363.9H113.6V368.7H108.8zM104.0 373.5H108.8V378.3H104.0zM99.2 387.9H104.0V392.8H99.2z"/>
<path fill="rgb(95,200,96)" d="M65.5 301.4H70.4V306.2H65.5zM75.2 311.0H80.0V315.8H75.2zM55.9 315.8H60.7V320.6H55.9zM70.4 320.6H75.2V325.4H70.4zM113.6 330.2H118.4V335.0H113.6zM65.5 339.8H70.4V344.7H65.5zM65.5 344.7H70.4V349.5H65.5zM113.6 344.7H118.4V349.5H113.6zM99.2 354.3H104.0V359.1H99.2zM108.8 359.1H113.6V363.9H108.8z"/>
<path fill="rgb(108,204,89)" d="M60.7 354.3H65.5V359.1H60.7zM104.0 368.7H108.8V373.5H104.0z"/>
<path fill="rgb(122,209,81)" d="M60.7 311.0H65.5V315.8H60.7zM75.2 315.8H80.0V320.6H75.2zM65.5 335.0H70.4V339.8H65.5zM108.8 335.0H113.6V339.8H108.8zM113.6 339.8H118.4V344.7H113.6zM104.0 344.7H108.8V349.5H104.0zM60.7 349.5H65.5V354.3H60.7zM60.7 359.1H65.5V363.9H60.7zM99.2 359.1H104.0V363.9H99.2z"/>
<path fill="rgb(139,212,70)" d="M65.5 330.2H70.4V335.0H65.5zM60.7 344.7H65.5V349.5H60.7zM108.8 349.5H113.6V354.3H108.8zM108.8 354.3H113.6V359.1H108.8z"/>
<path fill="rgb(156,216,60)" d="M65.5 306.2H70.4V311.0H65.5zM55.9 320.6H60.7V325.4H55.9zM65.5 320.6H70.4V325.4H65.5zM60.7 325.4H70.4V330.2H60.7zM60.7 330.2H65.5V335.0H60.7zM60.7 335.0H65.5V339.8H60.7zM113.6 335.0H118.4V339.8H113.6zM60.7 339.8H65.5V344.7H60.7zM108.8 339.8H113.6V344.7H108.8zM108.8 344.7H113.6V349.5H108.8zM104.0 363.9H108.8V368.7H104.0z"/>
<path fill="rgb(172,220,49)" d="M60.7 315.8H65.5V320.6H60.7zM104.0 359.1H108.8V363.9H104.0z"/>
<path fill="rgb(189,223,38)" d="M70.4 306.2H75.2V311.0H70.4zM65.5 311.0H70.4V315.8H65.5zM70.4 315.8H75.2V320.6H70.4zM60.7 320.6H65.5V325.4H60.7zM104.0 349.5H108.8V354.3H104.0z"/>
<path fill="rgb(205,225,38)" d="M65.5 315.8H70.4V320.6H65.5zM104.0 354.3H108.8V359.1H104.0z"/>
<path fill="rgb(253,231,37)" d="M70.4 311.0H75.2V315.8H70.4z"/>
<rect x="12.7" y="272.5" width="173.1" height="187.6" fill="none" stroke="#000" stroke-width="1" shape-rendering="geometricPrecision"/>
<text class="ax" transform="translate(17.5,473.5) scale(.84,1)" text-anchor="middle">-81</text>
<text class="ax" transform="translate(46.3,473.5) scale(.84,1)" text-anchor="middle">-80</text>
<text class="ax" transform="translate(75.2,473.5) scale(.84,1)" text-anchor="middle">-79</text>
<text class="ax" transform="translate(104.0,473.5) scale(.84,1)" text-anchor="middle">-78</text>
<text class="ax" transform="translate(132.9,473.5) scale(.84,1)" text-anchor="middle">-77</text>
<text class="ax" transform="translate(161.7,473.5) scale(.84,1)" text-anchor="middle">-76</text>
<text class="ax" transform="translate(7.2,286.9) rotate(-90) scale(.84,1)" text-anchor="middle">1</text>
<text class="ax" transform="translate(7.2,315.8) rotate(-90) scale(.84,1)" text-anchor="middle">0</text>
<text class="ax" transform="translate(7.2,344.7) rotate(-90) scale(.84,1)" text-anchor="middle">-1</text>
<text class="ax" transform="translate(7.2,373.5) rotate(-90) scale(.84,1)" text-anchor="middle">-2</text>
<text class="ax" transform="translate(7.2,402.4) rotate(-90) scale(.84,1)" text-anchor="middle">-3</text>
<text class="ax" transform="translate(7.2,431.2) rotate(-90) scale(.84,1)" text-anchor="middle">-4</text>
<text class="ax" transform="translate(7.2,460.1) rotate(-90) scale(.84,1)" text-anchor="middle">-5</text>
<path d="M17.5 460.1v3.8M46.3 460.1v3.8M75.2 460.1v3.8M104.0 460.1v3.8M132.9 460.1v3.8M161.7 460.1v3.8M12.7 286.9h-3.8M12.7 315.8h-3.8M12.7 344.7h-3.8M12.7 373.5h-3.8M12.7 402.4h-3.8M12.7 431.2h-3.8M12.7 460.1h-3.8" stroke="#000" stroke-width="1" fill="none" shape-rendering="geometricPrecision"/>
<text class="ti" x="99.2" y="265.9" text-anchor="middle">bio13</text>
<rect x="195.6" y="272.5" width="9.6" height="187.6" fill="url(#vg)" stroke="#000" stroke-width="1" shape-rendering="geometricPrecision"/>
<text class="lg" x="211.3" y="288.4">600</text>
<text class="lg" x="211.3" y="320.5">500</text>
<text class="lg" x="211.3" y="352.6">400</text>
<text class="lg" x="211.3" y="384.7">300</text>
<text class="lg" x="211.3" y="416.8">200</text>
<text class="lg" x="211.3" y="448.9">100</text>
<path d="M195.6 286.7h12.5M195.6 318.8h12.5M195.6 350.9h12.5M195.6 383.0h12.5M195.6 415.1h12.5M195.6 447.2h12.5" stroke="#000" stroke-width="1" fill="none" shape-rendering="geometricPrecision"/></g>
<g><path fill="rgb(69,10,92)" d="M260.7 320.6H265.5V325.4H260.7zM255.9 325.4H265.5V330.2H255.9zM255.9 330.2H265.5V335.0H255.9zM255.9 335.0H265.5V339.8H255.9zM255.9 339.8H270.3V344.7H255.9zM246.3 344.7H260.7V349.5H246.3zM260.7 349.5H289.5V354.3H260.7zM260.7 354.3H289.5V359.1H260.7zM260.7 359.1H289.5V363.9H260.7zM246.3 363.9H284.7V368.7H246.3zM251.1 368.7H284.7V373.5H251.1zM251.1 373.5H284.7V378.3H251.1zM241.5 378.3H279.9V383.1H241.5zM265.5 392.8H270.3V397.6H265.5zM260.7 397.6H270.3V402.4H260.7zM255.9 431.2H265.5V436.0H255.9zM260.7 436.0H270.3V440.9H260.7zM255.9 440.9H260.7V445.7H255.9z"/>
<path fill="rgb(70,18,100)" d="M323.2 301.4H328.0V306.2H323.2zM265.5 315.8H270.3V320.6H265.5zM265.5 320.6H270.3V325.4H265.5zM265.5 325.4H270.3V330.2H265.5zM265.5 330.2H270.3V335.0H265.5zM265.5 335.0H270.3V339.8H265.5zM270.3 339.8H279.9V344.7H270.3zM260.7 344.7H289.5V349.5H260.7zM246.3 349.5H260.7V354.3H246.3zM289.5 349.5H299.2V354.3H289.5zM246.3 354.3H260.7V359.1H246.3zM289.5 354.3H299.2V359.1H289.5zM246.3 359.1H260.7V363.9H246.3zM289.5 359.1H299.2V363.9H289.5zM284.7 363.9H294.4V368.7H284.7zM284.7 368.7H289.5V373.5H284.7zM284.7 373.5H289.5V378.3H284.7zM279.9 378.3H284.7V383.1H279.9zM251.1 383.1H279.9V387.9H251.1zM255.9 387.9H265.5V392.8H255.9zM270.3 387.9H275.1V392.8H270.3zM270.3 392.8H275.1V397.6H270.3zM265.5 412.0H270.3V416.8H265.5zM265.5 416.8H270.3V421.6H265.5zM265.5 421.6H270.3V426.4H265.5zM265.5 426.4H284.7V431.2H265.5zM265.5 431.2H284.7V436.0H265.5zM270.3 436.0H284.7V440.9H270.3zM275.1 440.9H284.7V445.7H275.1z"/>
<path fill="rgb(71,27,109)" d="M275.1 286.9H284.7V291.7H275.1zM323.2 296.6H328.0V301.4H323.2zM270.3 311.0H275.1V315.8H270.3zM313.6 311.0H318.4V315.8H313.6zM270.3 315.8H275.1V320.6H270.3zM313.6 315.8H318.4V320.6H313.6zM270.3 335.0H279.9V339.8H270.3zM304.0 335.0H308.8V339.8H304.0zM279.9 339.8H284.7V344.7H279.9zM304.0 339.8H308.8V344.7H304.0zM289.5 344.7H308.8V349.5H289.5zM299.2 349.5H308.8V354.3H299.2zM299.2 354.3H308.8V359.1H299.2zM299.2 359.1H308.8V363.9H299.2zM294.4 363.9H304.0V368.7H294.4zM284.7 378.3H289.5V383.1H284.7zM279.9 383.1H284.7V387.9H279.9zM275.1 387.9H279.9V392.8H275.1zM275.1 397.6H284.7V402.4H275.1zM279.9 402.4H284.7V407.2H279.9zM270.3 407.2H275.1V412.0H270.3zM279.9 407.2H284.7V412.0H279.9zM270.3 421.6H284.7V426.4H270.3z"/>
<path fill="rgb(72,36,117)" d="M265.5 291.7H270.3V296.6H265.5zM318.4 301.4H323.2V306.2H318.4zM270.3 306.2H275.1V311.0H270.3zM318.4 306.2H328.0V311.0H318.4zM275.1 311.0H284.7V315.8H275.1zM275.1 315.8H284.7V320.6H275.1zM270.3 320.6H275.1V325.4H270.3zM270.3 330.2H279.9V335.0H270.3zM304.0 330.2H308.8V335.0H304.0zM279.9 335.0H284.7V339.8H279.9zM299.2 335.0H304.0V339.8H299.2zM308.8 335.0H313.6V339.8H308.8zM284.7 339.8H289.5V344.7H284.7zM299.2 339.8H304.0V344.7H299.2zM308.8 339.8H313.6V344.7H308.8zM308.8 344.7H313.6V349.5H308.8zM304.0 363.9H308.8V368.7H304.0zM289.5 368.7H304.0V373.5H289.5zM299.2 373.5H308.8V378.3H299.2zM284.7 383.1H289.5V387.9H284.7zM275.1 392.8H279.9V397.6H275.1zM275.1 402.4H279.9V407.2H275.1zM284.7 407.2H289.5V412.0H284.7zM279.9 412.0H284.7V416.8H279.9zM270.3 416.8H284.7V421.6H270.3zM284.7 426.4H289.5V431.2H284.7zM284.7 431.2H289.5V436.0H284.7zM284.7 445.7H289.5V450.5H284.7z"/>
<path fill="rgb(70,44,122)" d="M284.7 286.9H289.5V291.7H284.7zM275.1 291.7H284.7V296.6H275.1zM323.2 291.7H328.0V296.6H323.2zM318.4 296.6H323.2V301.4H318.4zM270.3 301.4H275.1V306.2H270.3zM313.6 301.4H318.4V306.2H313.6zM275.1 306.2H284.7V311.0H275.1zM313.6 306.2H318.4V311.0H313.6zM318.4 311.0H323.2V315.8H318.4zM275.1 320.6H279.9V325.4H275.1zM313.6 320.6H318.4V325.4H313.6zM270.3 325.4H284.7V330.2H270.3zM279.9 330.2H284.7V335.0H279.9zM299.2 330.2H304.0V335.0H299.2zM308.8 330.2H313.6V335.0H308.8zM284.7 335.0H289.5V339.8H284.7zM313.6 335.0H318.4V339.8H313.6zM289.5 339.8H299.2V344.7H289.5zM308.8 349.5H313.6V354.3H308.8zM308.8 354.3H313.6V359.1H308.8zM308.8 359.1H313.6V363.9H308.8zM308.8 363.9H313.6V368.7H308.8zM304.0 368.7H313.6V373.5H304.0zM289.5 373.5H294.4V378.3H289.5zM308.8 373.5H313.6V378.3H308.8zM289.5 378.3H308.8V383.1H289.5zM279.9 387.9H289.5V392.8H279.9zM279.9 392.8H289.5V397.6H279.9zM299.2 397.6H304.0V402.4H299.2zM284.7 402.4H294.4V407.2H284.7zM299.2 402.4H304.0V407.2H299.2zM275.1 407.2H279.9V412.0H275.1zM289.5 407.2H299.2V412.0H289.5zM270.3 412.0H279.9V416.8H270.3zM284.7 412.0H294.4V416.8H284.7zM284.7 416.8H289.5V421.6H284.7zM284.7 421.6H289.5V426.4H284.7zM284.7 436.0H289.5V440.9H284.7zM284.7 440.9H289.5V445.7H284.7z"/>
<path fill="rgb(68,52,126)" d="M270.3 291.7H275.1V296.6H270.3zM284.7 291.7H289.5V296.6H284.7zM318.4 291.7H323.2V296.6H318.4zM279.9 296.6H284.7V301.4H279.9zM313.6 296.6H318.4V301.4H313.6zM275.1 301.4H284.7V306.2H275.1zM284.7 311.0H289.5V315.8H284.7zM323.2 311.0H328.0V315.8H323.2zM318.4 315.8H323.2V320.6H318.4zM279.9 320.6H284.7V325.4H279.9zM308.8 320.6H313.6V325.4H308.8zM318.4 320.6H323.2V325.4H318.4zM304.0 325.4H313.6V330.2H304.0zM313.6 330.2H318.4V335.0H313.6zM289.5 335.0H299.2V339.8H289.5zM313.6 339.8H318.4V344.7H313.6zM294.4 373.5H299.2V378.3H294.4zM308.8 378.3H313.6V383.1H308.8zM289.5 383.1H308.8V387.9H289.5zM299.2 387.9H308.8V392.8H299.2zM294.4 392.8H308.8V397.6H294.4zM284.7 397.6H299.2V402.4H284.7zM304.0 397.6H308.8V402.4H304.0zM294.4 402.4H299.2V407.2H294.4zM294.4 412.0H299.2V416.8H294.4zM289.5 416.8H294.4V421.6H289.5z"/>
<path fill="rgb(67,60,130)" d="M313.6 291.7H318.4V296.6H313.6zM332.8 291.7H337.6V296.6H332.8zM270.3 296.6H279.9V301.4H270.3zM284.7 296.6H289.5V301.4H284.7zM284.7 301.4H289.5V306.2H284.7zM328.0 301.4H332.8V306.2H328.0zM284.7 306.2H289.5V311.0H284.7zM284.7 315.8H289.5V320.6H284.7zM284.7 325.4H289.5V330.2H284.7zM299.2 325.4H304.0V330.2H299.2zM318.4 325.4H323.2V330.2H318.4zM284.7 330.2H289.5V335.0H284.7zM294.4 330.2H299.2V335.0H294.4zM318.4 330.2H323.2V335.0H318.4zM313.6 344.7H318.4V349.5H313.6zM289.5 387.9H294.4V392.8H289.5zM299.2 407.2H304.0V412.0H299.2zM289.5 455.3H294.4V460.1H289.5z"/>
<path fill="rgb(65,68,135)" d="M289.5 286.9H294.4V291.7H289.5zM318.4 286.9H323.2V291.7H318.4zM289.5 291.7H294.4V296.6H289.5zM328.0 296.6H332.8V301.4H328.0zM308.8 301.4H313.6V306.2H308.8zM328.0 306.2H332.8V311.0H328.0zM308.8 315.8H313.6V320.6H308.8zM323.2 315.8H328.0V320.6H323.2zM284.7 320.6H289.5V325.4H284.7zM304.0 320.6H308.8V325.4H304.0zM323.2 320.6H328.0V325.4H323.2zM289.5 325.4H299.2V330.2H289.5zM313.6 325.4H318.4V330.2H313.6zM323.2 325.4H328.0V330.2H323.2zM289.5 330.2H294.4V335.0H289.5zM318.4 335.0H323.2V339.8H318.4zM313.6 349.5H318.4V354.3H313.6zM313.6 354.3H318.4V359.1H313.6zM313.6 359.1H318.4V363.9H313.6zM313.6 363.9H318.4V368.7H313.6zM313.6 368.7H318.4V373.5H313.6zM313.6 373.5H318.4V378.3H313.6zM308.8 383.1H313.6V387.9H308.8zM294.4 387.9H299.2V392.8H294.4zM289.5 392.8H294.4V397.6H289.5zM304.0 402.4H308.8V407.2H304.0zM289.5 421.6H294.4V426.4H289.5zM284.7 450.5H289.5V455.3H284.7zM294.4 455.3H299.2V460.1H294.4z"/>
<path fill="rgb(62,75,136)" d="M289.5 296.6H294.4V301.4H289.5zM308.8 296.6H313.6V301.4H308.8zM289.5 301.4H294.4V306.2H289.5zM289.5 306.2H294.4V311.0H289.5zM308.8 306.2H313.6V311.0H308.8zM289.5 311.0H294.4V315.8H289.5zM289.5 315.8H294.4V320.6H289.5zM289.5 320.6H294.4V325.4H289.5zM299.2 320.6H304.0V325.4H299.2zM318.4 339.8H323.2V344.7H318.4zM308.8 387.9H313.6V392.8H308.8zM289.5 440.9H294.4V445.7H289.5zM289.5 445.7H294.4V450.5H289.5z"/>
<path fill="rgb(59,82,138)" d="M328.0 291.7H332.8V296.6H328.0zM332.8 296.6H337.6V301.4H332.8zM332.8 301.4H337.6V306.2H332.8zM308.8 311.0H313.6V315.8H308.8zM328.0 311.0H332.8V315.8H328.0zM304.0 315.8H308.8V320.6H304.0zM294.4 320.6H299.2V325.4H294.4zM323.2 330.2H328.0V335.0H323.2zM318.4 344.7H323.2V349.5H318.4zM313.6 378.3H318.4V383.1H313.6zM308.8 392.8H313.6V397.6H308.8zM299.2 412.0H304.0V416.8H299.2zM294.4 416.8H299.2V421.6H294.4zM289.5 426.4H294.4V431.2H289.5zM289.5 431.2H294.4V436.0H289.5zM289.5 436.0H294.4V440.9H289.5zM289.5 450.5H294.4V455.3H289.5z"/>
<path fill="rgb(56,88,140)" d="M294.4 282.1H299.2V286.9H294.4zM332.8 306.2H337.6V311.0H332.8zM328.0 315.8H332.8V320.6H328.0zM328.0 320.6H332.8V325.4H328.0zM318.4 349.5H323.2V354.3H318.4zM304.0 407.2H308.8V412.0H304.0zM294.4 445.7H299.2V450.5H294.4zM294.4 450.5H299.2V455.3H294.4z"/>
<path fill="rgb(53,95,141)" d="M299.2 277.3H304.0V282.1H299.2zM294.4 286.9H299.2V291.7H294.4zM308.8 291.7H313.6V296.6H308.8zM337.6 296.6H342.4V301.4H337.6zM304.0 301.4H308.8V306.2H304.0zM337.6 301.4H342.4V306.2H337.6zM299.2 306.2H308.8V311.0H299.2zM304.0 311.0H308.8V315.8H304.0zM332.8 311.0H337.6V315.8H332.8zM294.4 315.8H304.0V320.6H294.4zM332.8 315.8H337.6V320.6H332.8zM328.0 325.4H332.8V330.2H328.0zM323.2 335.0H328.0V339.8H323.2zM318.4 359.1H323.2V363.9H318.4zM318.4 363.9H323.2V368.7H318.4zM313.6 383.1H318.4V387.9H313.6zM308.8 397.6H313.6V402.4H308.8zM294.4 421.6H299.2V426.4H294.4zM294.4 431.2H299.2V436.0H294.4zM294.4 436.0H299.2V440.9H294.4zM294.4 440.9H299.2V445.7H294.4zM299.2 450.5H304.0V455.3H299.2z"/>
<path fill="rgb(50,101,141)" d="M294.4 426.4H299.2V431.2H294.4z"/>
<path fill="rgb(48,108,142)" d="M304.0 277.3H308.8V282.1H304.0zM299.2 282.1H304.0V286.9H299.2zM294.4 291.7H299.2V296.6H294.4zM294.4 296.6H299.2V301.4H294.4zM304.0 296.6H308.8V301.4H304.0zM294.4 301.4H304.0V306.2H294.4zM294.4 306.2H299.2V311.0H294.4zM299.2 311.0H304.0V315.8H299.2zM323.2 339.8H328.0V344.7H323.2zM318.4 354.3H323.2V359.1H318.4zM318.4 368.7H323.2V373.5H318.4zM299.2 445.7H304.0V450.5H299.2z"/>
<path fill="rgb(45,114,142)" d="M313.6 387.9H318.4V392.8H313.6zM299.2 440.9H304.0V445.7H299.2z"/>
<path fill="rgb(42,120,142)" d="M299.2 286.9H304.0V291.7H299.2zM313.6 286.9H318.4V291.7H313.6zM299.2 291.7H304.0V296.6H299.2zM299.2 296.6H304.0V301.4H299.2zM342.4 301.4H347.2V306.2H342.4zM332.8 320.6H337.6V325.4H332.8zM328.0 330.2H332.8V335.0H328.0zM318.4 373.5H323.2V378.3H318.4zM308.8 402.4H313.6V407.2H308.8zM304.0 412.0H308.8V416.8H304.0zM299.2 416.8H304.0V421.6H299.2zM299.2 436.0H304.0V440.9H299.2zM304.0 445.7H308.8V450.5H304.0z"/>
<path fill="rgb(40,126,142)" d="M299.2 431.2H304.0V436.0H299.2zM304.0 440.9H308.8V445.7H304.0z"/>
<path fill="rgb(38,132,141)" d="M304.0 282.1H308.8V286.9H304.0zM304.0 291.7H308.8V296.6H304.0zM294.4 311.0H299.2V315.8H294.4zM323.2 344.7H328.0V349.5H323.2zM318.4 378.3H323.2V383.1H318.4zM313.6 392.8H318.4V397.6H313.6zM299.2 421.6H304.0V426.4H299.2zM299.2 426.4H304.0V431.2H299.2zM304.0 436.0H308.8V440.9H304.0z"/>
<path fill="rgb(35,139,140)" d="M390.5 315.8H400.1V320.6H390.5zM390.5 320.6H400.1V325.4H390.5zM390.5 325.4H404.9V330.2H390.5zM390.5 330.2H409.8V335.0H390.5zM390.5 335.0H404.9V339.8H390.5zM390.5 339.8H409.8V344.7H390.5zM318.4 383.1H323.2V387.9H318.4zM313.6 397.6H318.4V402.4H313.6zM308.8 407.2H313.6V412.0H308.8z"/>
<path fill="rgb(33,145,140)" d="M304.0 286.9H308.8V291.7H304.0zM337.6 306.2H342.4V311.0H337.6zM385.7 311.0H390.5V315.8H385.7zM385.7 315.8H390.5V320.6H385.7zM385.7 320.6H390.5V325.4H385.7zM332.8 325.4H337.6V330.2H332.8zM385.7 325.4H390.5V330.2H385.7zM385.7 330.2H390.5V335.0H385.7zM385.7 335.0H390.5V339.8H385.7zM385.7 339.8H390.5V344.7H385.7zM385.7 344.7H400.1V349.5H385.7zM385.7 349.5H400.1V354.3H385.7zM395.3 354.3H400.1V359.1H395.3zM318.4 387.9H323.2V392.8H318.4zM313.6 402.4H318.4V407.2H313.6zM308.8 412.0H313.6V416.8H308.8zM304.0 416.8H308.8V421.6H304.0zM304.0 431.2H308.8V436.0H304.0z"/>
<path fill="rgb(33,151,138)" d="M380.9 325.4H385.7V330.2H380.9zM380.9 330.2H385.7V335.0H380.9zM380.9 335.0H385.7V339.8H380.9zM380.9 339.8H385.7V344.7H380.9zM380.9 344.7H385.7V349.5H380.9zM380.9 349.5H385.7V354.3H380.9zM390.5 354.3H395.3V359.1H390.5zM390.5 359.1H395.3V363.9H390.5zM390.5 363.9H395.3V368.7H390.5zM318.4 392.8H323.2V397.6H318.4zM318.4 397.6H323.2V402.4H318.4zM313.6 407.2H318.4V412.0H313.6zM304.0 421.6H308.8V426.4H304.0zM304.0 426.4H308.8V431.2H304.0z"/>
<path fill="rgb(34,156,136)" d="M308.8 286.9H313.6V291.7H308.8zM380.9 311.0H385.7V315.8H380.9zM380.9 315.8H385.7V320.6H380.9zM380.9 320.6H385.7V325.4H380.9zM328.0 335.0H332.8V339.8H328.0zM376.1 344.7H380.9V349.5H376.1zM376.1 349.5H380.9V354.3H376.1zM385.7 354.3H390.5V359.1H385.7zM385.7 359.1H390.5V363.9H385.7zM385.7 363.9H390.5V368.7H385.7zM380.9 368.7H390.5V373.5H380.9zM380.9 373.5H385.7V378.3H380.9zM323.2 383.1H328.0V387.9H323.2zM323.2 387.9H328.0V392.8H323.2zM323.2 392.8H332.8V397.6H323.2zM323.2 397.6H332.8V402.4H323.2zM318.4 402.4H328.0V407.2H318.4zM318.4 407.2H323.2V412.0H318.4zM313.6 412.0H318.4V416.8H313.6zM308.8 416.8H313.6V421.6H308.8zM308.8 431.2H313.6V436.0H308.8z"/>
<path fill="rgb(34,162,134)" d="M376.1 320.6H380.9V325.4H376.1zM376.1 325.4H380.9V330.2H376.1zM376.1 330.2H380.9V335.0H376.1zM376.1 335.0H380.9V339.8H376.1zM376.1 339.8H380.9V344.7H376.1zM371.3 349.5H376.1V354.3H371.3zM380.9 354.3H385.7V359.1H380.9zM380.9 359.1H385.7V363.9H380.9zM376.1 363.9H385.7V368.7H376.1zM376.1 368.7H380.9V373.5H376.1zM376.1 373.5H380.9V378.3H376.1zM323.2 378.3H328.0V383.1H323.2zM371.3 378.3H380.9V383.1H371.3zM366.5 383.1H371.3V387.9H366.5zM361.7 387.9H366.5V392.8H361.7zM332.8 392.8H337.6V397.6H332.8zM332.8 397.6H337.6V402.4H332.8zM313.6 416.8H318.4V421.6H313.6zM308.8 421.6H313.6V426.4H308.8zM308.8 426.4H313.6V431.2H308.8z"/>
<path fill="rgb(34,168,132)" d="M308.8 282.1H313.6V286.9H308.8zM342.4 306.2H347.2V311.0H342.4zM380.9 306.2H385.7V311.0H380.9zM376.1 311.0H380.9V315.8H376.1zM337.6 315.8H342.4V320.6H337.6zM376.1 315.8H380.9V320.6H376.1zM337.6 320.6H342.4V325.4H337.6zM371.3 330.2H376.1V335.0H371.3zM371.3 335.0H376.1V339.8H371.3zM371.3 339.8H376.1V344.7H371.3zM371.3 344.7H376.1V349.5H371.3zM376.1 354.3H380.9V359.1H376.1zM376.1 359.1H380.9V363.9H376.1zM371.3 363.9H376.1V368.7H371.3zM371.3 368.7H376.1V373.5H371.3zM323.2 373.5H328.0V378.3H323.2zM371.3 373.5H376.1V378.3H371.3zM366.5 378.3H371.3V383.1H366.5zM361.7 383.1H366.5V387.9H361.7zM328.0 387.9H337.6V392.8H328.0zM352.1 387.9H361.7V392.8H352.1zM337.6 392.8H352.1V397.6H337.6zM313.6 421.6H318.4V426.4H313.6z"/>
<path fill="rgb(42,174,127)" d="M376.1 306.2H380.9V311.0H376.1zM371.3 320.6H376.1V325.4H371.3zM371.3 325.4H376.1V330.2H371.3zM366.5 344.7H371.3V349.5H366.5zM366.5 349.5H371.3V354.3H366.5zM371.3 354.3H376.1V359.1H371.3zM371.3 359.1H376.1V363.9H371.3zM366.5 363.9H371.3V368.7H366.5zM366.5 368.7H371.3V373.5H366.5zM366.5 373.5H371.3V378.3H366.5zM361.7 378.3H366.5V383.1H361.7zM328.0 383.1H332.8V387.9H328.0zM356.9 383.1H361.7V387.9H356.9zM337.6 387.9H352.1V392.8H337.6z"/>
<path fill="rgb(51,180,122)" d="M347.2 306.2H352.1V311.0H347.2zM337.6 311.0H342.4V315.8H337.6zM371.3 311.0H376.1V315.8H371.3zM371.3 315.8H376.1V320.6H371.3zM332.8 330.2H337.6V335.0H332.8zM366.5 330.2H371.3V335.0H366.5zM366.5 335.0H371.3V339.8H366.5zM366.5 339.8H371.3V344.7H366.5zM323.2 349.5H328.0V354.3H323.2zM361.7 349.5H366.5V354.3H361.7zM366.5 354.3H371.3V359.1H366.5zM366.5 359.1H371.3V363.9H366.5zM361.7 373.5H366.5V378.3H361.7zM356.9 378.3H361.7V383.1H356.9zM342.4 383.1H356.9V387.9H342.4z"/>
<path fill="rgb(60,185,117)" d="M366.5 311.0H371.3V315.8H366.5zM366.5 325.4H371.3V330.2H366.5zM361.7 339.8H366.5V344.7H361.7zM352.1 344.7H366.5V349.5H352.1zM352.1 349.5H361.7V354.3H352.1zM361.7 363.9H366.5V368.7H361.7zM323.2 368.7H328.0V373.5H323.2zM361.7 368.7H366.5V373.5H361.7zM356.9 373.5H361.7V378.3H356.9zM352.1 378.3H356.9V383.1H352.1zM332.8 383.1H342.4V387.9H332.8z"/>
<path fill="rgb(68,191,112)" d="M352.1 306.2H356.9V311.0H352.1zM342.4 311.0H347.2V315.8H342.4zM366.5 315.8H371.3V320.6H366.5zM366.5 320.6H371.3V325.4H366.5zM352.1 325.4H361.7V330.2H352.1zM352.1 330.2H366.5V335.0H352.1zM352.1 335.0H356.9V339.8H352.1zM361.7 335.0H366.5V339.8H361.7zM352.1 339.8H361.7V344.7H352.1zM347.2 344.7H352.1V349.5H347.2zM347.2 349.5H352.1V354.3H347.2zM361.7 354.3H366.5V359.1H361.7zM361.7 359.1H366.5V363.9H361.7zM356.9 368.7H361.7V373.5H356.9zM352.1 373.5H356.9V378.3H352.1zM328.0 378.3H352.1V383.1H328.0z"/>
<path fill="rgb(82,196,104)" d="M356.9 306.2H366.5V311.0H356.9zM347.2 311.0H352.1V315.8H347.2zM347.2 315.8H352.1V320.6H347.2zM347.2 320.6H356.9V325.4H347.2zM337.6 325.4H342.4V330.2H337.6zM347.2 325.4H352.1V330.2H347.2zM361.7 325.4H366.5V330.2H361.7zM347.2 335.0H352.1V339.8H347.2zM356.9 335.0H361.7V339.8H356.9zM347.2 339.8H352.1V344.7H347.2zM342.4 349.5H347.2V354.3H342.4zM347.2 354.3H361.7V359.1H347.2zM352.1 359.1H361.7V363.9H352.1zM352.1 363.9H361.7V368.7H352.1zM352.1 368.7H356.9V373.5H352.1zM342.4 373.5H352.1V378.3H342.4z"/>
<path fill="rgb(95,200,96)" d="M352.1 311.0H356.9V315.8H352.1zM361.7 311.0H366.5V315.8H361.7zM352.1 315.8H356.9V320.6H352.1zM356.9 320.6H366.5V325.4H356.9zM347.2 330.2H352.1V335.0H347.2zM342.4 339.8H347.2V344.7H342.4zM342.4 344.7H347.2V349.5H342.4zM342.4 354.3H347.2V359.1H342.4zM347.2 359.1H352.1V363.9H347.2zM347.2 363.9H352.1V368.7H347.2zM342.4 368.7H352.1V373.5H342.4zM337.6 373.5H342.4V378.3H337.6z"/>
<path fill="rgb(108,204,89)" d="M356.9 311.0H361.7V315.8H356.9zM361.7 315.8H366.5V320.6H361.7zM342.4 335.0H347.2V339.8H342.4zM337.6 349.5H342.4V354.3H337.6zM342.4 359.1H347.2V363.9H342.4zM323.2 363.9H328.0V368.7H323.2zM342.4 363.9H347.2V368.7H342.4zM328.0 373.5H332.8V378.3H328.0z"/>
<path fill="rgb(122,209,81)" d="M313.6 282.1H318.4V286.9H313.6zM356.9 315.8H361.7V320.6H356.9zM337.6 330.2H342.4V335.0H337.6zM328.0 339.8H332.8V344.7H328.0zM337.6 344.7H342.4V349.5H337.6zM337.6 354.3H342.4V359.1H337.6zM337.6 368.7H342.4V373.5H337.6zM332.8 373.5H337.6V378.3H332.8z"/>
<path fill="rgb(139,212,70)" d="M337.6 339.8H342.4V344.7H337.6zM337.6 359.1H342.4V363.9H337.6zM337.6 363.9H342.4V368.7H337.6z"/>
<path fill="rgb(156,216,60)" d="M342.4 315.8H347.2V320.6H342.4zM342.4 330.2H347.2V335.0H342.4zM332.8 349.5H337.6V354.3H332.8zM323.2 354.3H328.0V359.1H323.2zM332.8 368.7H337.6V373.5H332.8z"/>
<path fill="rgb(172,220,49)" d="M342.4 320.6H347.2V325.4H342.4zM342.4 325.4H347.2V330.2H342.4zM332.8 335.0H342.4V339.8H332.8zM332.8 344.7H337.6V349.5H332.8zM328.0 368.7H332.8V373.5H328.0z"/>
<path fill="rgb(189,223,38)" d="M332.8 339.8H337.6V344.7H332.8zM332.8 354.3H337.6V359.1H332.8zM332.8 363.9H337.6V368.7H332.8z"/>
<path fill="rgb(205,225,38)" d="M328.0 344.7H332.8V349.5H328.0zM332.8 359.1H337.6V363.9H332.8z"/>
<path fill="rgb(221,227,38)" d="M328.0 349.5H332.8V354.3H328.0zM323.2 359.1H328.0V363.9H323.2zM328.0 363.9H332.8V368.7H328.0z"/>
<path fill="rgb(253,231,37)" d="M328.0 354.3H332.8V359.1H328.0zM328.0 359.1H332.8V363.9H328.0z"/>
<rect x="236.7" y="272.5" width="173.1" height="187.6" fill="none" stroke="#000" stroke-width="1" shape-rendering="geometricPrecision"/>
<text class="ax" transform="translate(241.5,473.5) scale(.84,1)" text-anchor="middle">-81</text>
<text class="ax" transform="translate(270.3,473.5) scale(.84,1)" text-anchor="middle">-80</text>
<text class="ax" transform="translate(299.2,473.5) scale(.84,1)" text-anchor="middle">-79</text>
<text class="ax" transform="translate(328.0,473.5) scale(.84,1)" text-anchor="middle">-78</text>
<text class="ax" transform="translate(356.9,473.5) scale(.84,1)" text-anchor="middle">-77</text>
<text class="ax" transform="translate(385.7,473.5) scale(.84,1)" text-anchor="middle">-76</text>
<text class="ax" transform="translate(231.2,286.9) rotate(-90) scale(.84,1)" text-anchor="middle">1</text>
<text class="ax" transform="translate(231.2,315.8) rotate(-90) scale(.84,1)" text-anchor="middle">0</text>
<text class="ax" transform="translate(231.2,344.7) rotate(-90) scale(.84,1)" text-anchor="middle">-1</text>
<text class="ax" transform="translate(231.2,373.5) rotate(-90) scale(.84,1)" text-anchor="middle">-2</text>
<text class="ax" transform="translate(231.2,402.4) rotate(-90) scale(.84,1)" text-anchor="middle">-3</text>
<text class="ax" transform="translate(231.2,431.2) rotate(-90) scale(.84,1)" text-anchor="middle">-4</text>
<text class="ax" transform="translate(231.2,460.1) rotate(-90) scale(.84,1)" text-anchor="middle">-5</text>
<path d="M241.5 460.1v3.8M270.3 460.1v3.8M299.2 460.1v3.8M328.0 460.1v3.8M356.9 460.1v3.8M385.7 460.1v3.8M236.7 286.9h-3.8M236.7 315.8h-3.8M236.7 344.7h-3.8M236.7 373.5h-3.8M236.7 402.4h-3.8M236.7 431.2h-3.8M236.7 460.1h-3.8" stroke="#000" stroke-width="1" fill="none" shape-rendering="geometricPrecision"/>
<text class="ti" x="323.2" y="265.9" text-anchor="middle">bio14</text>
<rect x="419.6" y="272.5" width="9.6" height="187.6" fill="url(#vg)" stroke="#000" stroke-width="1" shape-rendering="geometricPrecision"/>
<text class="lg" x="435.4" y="302.1">250</text>
<text class="lg" x="435.4" y="334.0">200</text>
<text class="lg" x="435.4" y="365.9">150</text>
<text class="lg" x="435.4" y="397.8">100</text>
<text class="lg" x="435.4" y="429.7">50</text>
<text class="lg" x="435.4" y="461.7">0</text>
<path d="M419.6 300.4h12.5M419.6 332.3h12.5M419.6 364.2h12.5M419.6 396.1h12.5M419.6 428.0h12.5M419.6 460.0h12.5" stroke="#000" stroke-width="1" fill="none" shape-rendering="geometricPrecision"/></g>
<g><path fill="rgb(69,10,92)" d="M556.8 296.6H561.6V301.4H556.8zM552.0 301.4H556.8V306.2H552.0z"/>
<path fill="rgb(70,18,100)" d="M556.8 301.4H561.6V306.2H556.8zM547.2 306.2H552.0V311.0H547.2zM585.7 320.6H604.9V325.4H585.7zM585.7 325.4H604.9V330.2H585.7zM585.7 330.2H604.9V335.0H585.7zM585.7 335.0H604.9V339.8H585.7zM585.7 339.8H604.9V344.7H585.7zM585.7 344.7H604.9V349.5H585.7zM585.7 349.5H604.9V354.3H585.7zM585.7 354.3H604.9V359.1H585.7zM585.7 359.1H604.9V363.9H585.7zM561.6 378.3H604.9V383.1H561.6zM561.6 383.1H595.3V387.9H561.6z"/>
<path fill="rgb(71,27,109)" d="M556.8 291.7H561.6V296.6H556.8zM552.0 296.6H556.8V301.4H552.0zM547.2 301.4H552.0V306.2H547.2zM552.0 306.2H556.8V311.0H552.0zM600.1 306.2H609.7V311.0H600.1zM590.5 311.0H614.5V315.8H590.5zM585.7 315.8H624.1V320.6H585.7zM604.9 320.6H624.1V325.4H604.9zM571.2 325.4H585.7V330.2H571.2zM604.9 325.4H619.3V330.2H604.9zM571.2 330.2H585.7V335.0H571.2zM604.9 330.2H624.1V335.0H604.9zM537.6 335.0H542.4V339.8H537.6zM571.2 335.0H585.7V339.8H571.2zM604.9 335.0H628.9V339.8H604.9zM537.6 339.8H542.4V344.7H537.6zM571.2 339.8H585.7V344.7H571.2zM604.9 339.8H624.1V344.7H604.9zM532.8 344.7H537.6V349.5H532.8zM571.2 344.7H585.7V349.5H571.2zM604.9 344.7H624.1V349.5H604.9zM532.8 349.5H537.6V354.3H532.8zM571.2 349.5H585.7V354.3H571.2zM604.9 349.5H624.1V354.3H604.9zM566.4 354.3H585.7V359.1H566.4zM604.9 354.3H624.1V359.1H604.9zM561.6 359.1H585.7V363.9H561.6zM604.9 359.1H619.3V363.9H604.9zM556.8 363.9H619.3V368.7H556.8zM556.8 368.7H614.5V373.5H556.8zM561.6 373.5H609.7V378.3H561.6zM561.6 387.9H590.5V392.8H561.6zM518.4 416.8H523.2V421.6H518.4zM518.4 421.6H523.2V426.4H518.4zM518.4 426.4H523.2V431.2H518.4zM523.2 436.0H528.0V440.9H523.2zM523.2 440.9H528.0V445.7H523.2zM523.2 445.7H532.8V450.5H523.2zM523.2 450.5H528.0V455.3H523.2z"/>
<path fill="rgb(72,36,117)" d="M532.8 286.9H542.4V291.7H532.8zM552.0 291.7H556.8V296.6H552.0zM561.6 296.6H566.4V301.4H561.6zM561.6 301.4H566.4V306.2H561.6zM556.8 306.2H561.6V311.0H556.8zM571.2 306.2H590.5V311.0H571.2zM547.2 311.0H556.8V315.8H547.2zM571.2 311.0H590.5V315.8H571.2zM571.2 315.8H585.7V320.6H571.2zM547.2 320.6H552.0V325.4H547.2zM571.2 320.6H585.7V325.4H571.2zM547.2 325.4H552.0V330.2H547.2zM619.3 325.4H624.1V330.2H619.3zM537.6 330.2H547.2V335.0H537.6zM532.8 335.0H537.6V339.8H532.8zM542.4 335.0H547.2V339.8H542.4zM566.4 335.0H571.2V339.8H566.4zM532.8 339.8H537.6V344.7H532.8zM566.4 339.8H571.2V344.7H566.4zM537.6 344.7H542.4V349.5H537.6zM566.4 344.7H571.2V349.5H566.4zM537.6 349.5H542.4V354.3H537.6zM561.6 349.5H571.2V354.3H561.6zM532.8 354.3H537.6V359.1H532.8zM556.8 354.3H566.4V359.1H556.8zM552.0 359.1H561.6V363.9H552.0zM552.0 363.9H556.8V368.7H552.0zM552.0 368.7H556.8V373.5H552.0zM556.8 373.5H561.6V378.3H556.8zM556.8 378.3H561.6V383.1H556.8zM556.8 383.1H561.6V387.9H556.8zM523.2 387.9H528.0V392.8H523.2zM556.8 387.9H561.6V392.8H556.8zM518.4 392.8H523.2V397.6H518.4zM556.8 392.8H576.0V397.6H556.8zM518.4 397.6H523.2V402.4H518.4zM518.4 402.4H523.2V407.2H518.4zM523.2 416.8H528.0V421.6H523.2zM513.5 426.4H518.4V431.2H513.5zM518.4 431.2H528.0V436.0H518.4zM518.4 436.0H523.2V440.9H518.4zM528.0 440.9H532.8V445.7H528.0z"/>
<path fill="rgb(70,44,122)" d="M532.8 282.1H542.4V286.9H532.8zM528.0 286.9H532.8V291.7H528.0zM566.4 301.4H571.2V306.2H566.4zM561.6 306.2H571.2V311.0H561.6zM556.8 311.0H571.2V315.8H556.8zM542.4 315.8H552.0V320.6H542.4zM566.4 315.8H571.2V320.6H566.4zM566.4 320.6H571.2V325.4H566.4zM542.4 325.4H547.2V330.2H542.4zM566.4 325.4H571.2V330.2H566.4zM532.8 330.2H537.6V335.0H532.8zM566.4 330.2H571.2V335.0H566.4zM561.6 335.0H566.4V339.8H561.6zM542.4 339.8H547.2V344.7H542.4zM561.6 339.8H566.4V344.7H561.6zM624.1 339.8H633.8V344.7H624.1zM542.4 344.7H547.2V349.5H542.4zM561.6 344.7H566.4V349.5H561.6zM528.0 349.5H532.8V354.3H528.0zM556.8 349.5H561.6V354.3H556.8zM528.0 354.3H532.8V359.1H528.0zM552.0 354.3H556.8V359.1H552.0zM532.8 368.7H537.6V373.5H532.8zM528.0 373.5H537.6V378.3H528.0zM552.0 373.5H556.8V378.3H552.0zM528.0 378.3H532.8V383.1H528.0zM552.0 378.3H556.8V383.1H552.0zM523.2 383.1H532.8V387.9H523.2zM552.0 383.1H556.8V387.9H552.0zM518.4 387.9H523.2V392.8H518.4zM552.0 387.9H556.8V392.8H552.0zM523.2 392.8H528.0V397.6H523.2zM552.0 392.8H556.8V397.6H552.0zM513.5 397.6H518.4V402.4H513.5zM523.2 397.6H528.0V402.4H523.2zM552.0 397.6H561.6V402.4H552.0zM513.5 402.4H518.4V407.2H513.5zM523.2 402.4H528.0V407.2H523.2zM518.4 407.2H528.0V412.0H518.4zM518.4 412.0H528.0V416.8H518.4zM523.2 421.6H528.0V426.4H523.2zM523.2 426.4H528.0V431.2H523.2zM528.0 436.0H532.8V440.9H528.0zM518.4 440.9H523.2V445.7H518.4zM518.4 445.7H523.2V450.5H518.4zM518.4 450.5H523.2V455.3H518.4z"/>
<path fill="rgb(68,52,126)" d="M528.0 282.1H532.8V286.9H528.0zM523.2 286.9H528.0V291.7H523.2zM542.4 286.9H547.2V291.7H542.4zM528.0 291.7H552.0V296.6H528.0zM542.4 296.6H552.0V301.4H542.4zM542.4 301.4H547.2V306.2H542.4zM542.4 311.0H547.2V315.8H542.4zM552.0 315.8H566.4V320.6H552.0zM542.4 320.6H547.2V325.4H542.4zM532.8 325.4H542.4V330.2H532.8zM624.1 325.4H628.9V330.2H624.1zM547.2 330.2H552.0V335.0H547.2zM561.6 330.2H566.4V335.0H561.6zM624.1 330.2H633.8V335.0H624.1zM556.8 335.0H561.6V339.8H556.8zM552.0 339.8H561.6V344.7H552.0zM528.0 344.7H532.8V349.5H528.0zM556.8 344.7H561.6V349.5H556.8zM542.4 349.5H547.2V354.3H542.4zM552.0 349.5H556.8V354.3H552.0zM537.6 354.3H542.4V359.1H537.6zM528.0 359.1H537.6V363.9H528.0zM547.2 359.1H552.0V363.9H547.2zM528.0 363.9H542.4V368.7H528.0zM547.2 363.9H552.0V368.7H547.2zM528.0 368.7H532.8V373.5H528.0zM537.6 368.7H542.4V373.5H537.6zM547.2 368.7H552.0V373.5H547.2zM547.2 373.5H552.0V378.3H547.2zM532.8 378.3H537.6V383.1H532.8zM547.2 378.3H552.0V383.1H547.2zM547.2 383.1H552.0V387.9H547.2zM528.0 387.9H532.8V392.8H528.0zM547.2 387.9H552.0V392.8H547.2zM513.5 392.8H518.4V397.6H513.5zM528.0 392.8H532.8V397.6H528.0zM547.2 392.8H552.0V397.6H547.2zM528.0 397.6H532.8V402.4H528.0zM547.2 397.6H552.0V402.4H547.2zM528.0 402.4H532.8V407.2H528.0zM547.2 402.4H552.0V407.2H547.2zM513.5 407.2H518.4V412.0H513.5zM528.0 407.2H532.8V412.0H528.0zM528.0 412.0H532.8V416.8H528.0zM513.5 416.8H518.4V421.6H513.5zM528.0 416.8H532.8V421.6H528.0zM513.5 421.6H518.4V426.4H513.5zM528.0 421.6H542.4V426.4H528.0zM528.0 426.4H537.6V431.2H528.0zM513.5 431.2H518.4V436.0H513.5zM528.0 431.2H537.6V436.0H528.0zM513.5 436.0H518.4V440.9H513.5zM508.7 450.5H513.5V455.3H508.7z"/>
<path fill="rgb(67,60,130)" d="M523.2 282.1H528.0V286.9H523.2zM523.2 291.7H528.0V296.6H523.2zM537.6 296.6H542.4V301.4H537.6zM542.4 306.2H547.2V311.0H542.4zM537.6 315.8H542.4V320.6H537.6zM537.6 320.6H542.4V325.4H537.6zM552.0 320.6H556.8V325.4H552.0zM561.6 320.6H566.4V325.4H561.6zM552.0 325.4H556.8V330.2H552.0zM561.6 325.4H566.4V330.2H561.6zM552.0 330.2H556.8V335.0H552.0zM552.0 335.0H556.8V339.8H552.0zM528.0 339.8H532.8V344.7H528.0zM552.0 344.7H556.8V349.5H552.0zM542.4 363.9H547.2V368.7H542.4zM542.4 402.4H547.2V407.2H542.4zM542.4 407.2H547.2V412.0H542.4zM532.8 412.0H542.4V416.8H532.8zM532.8 416.8H542.4V421.6H532.8z"/>
<path fill="rgb(65,68,135)" d="M528.0 277.3H532.8V282.1H528.0zM518.4 282.1H523.2V286.9H518.4zM518.4 286.9H523.2V291.7H518.4zM532.8 296.6H537.6V301.4H532.8zM537.6 301.4H542.4V306.2H537.6zM537.6 306.2H542.4V311.0H537.6zM537.6 311.0H542.4V315.8H537.6zM556.8 320.6H561.6V325.4H556.8zM556.8 325.4H561.6V330.2H556.8zM556.8 330.2H561.6V335.0H556.8zM528.0 335.0H532.8V339.8H528.0zM547.2 335.0H552.0V339.8H547.2zM547.2 339.8H552.0V344.7H547.2zM542.4 354.3H552.0V359.1H542.4zM537.6 359.1H547.2V363.9H537.6zM542.4 368.7H547.2V373.5H542.4zM537.6 373.5H547.2V378.3H537.6zM523.2 378.3H528.0V383.1H523.2zM542.4 378.3H547.2V383.1H542.4zM532.8 383.1H537.6V387.9H532.8zM542.4 383.1H547.2V387.9H542.4zM532.8 387.9H537.6V392.8H532.8zM542.4 387.9H547.2V392.8H542.4zM532.8 392.8H537.6V397.6H532.8zM542.4 392.8H547.2V397.6H542.4zM532.8 397.6H547.2V402.4H532.8zM532.8 402.4H542.4V407.2H532.8zM532.8 407.2H542.4V412.0H532.8zM513.5 412.0H518.4V416.8H513.5zM513.5 440.9H518.4V445.7H513.5zM513.5 445.7H518.4V450.5H513.5z"/>
<path fill="rgb(62,75,136)" d="M523.2 277.3H528.0V282.1H523.2zM518.4 291.7H523.2V296.6H518.4zM528.0 296.6H532.8V301.4H528.0zM532.8 301.4H537.6V306.2H532.8zM532.8 306.2H537.6V311.0H532.8zM532.8 311.0H537.6V315.8H532.8zM532.8 315.8H537.6V320.6H532.8zM532.8 320.6H537.6V325.4H532.8zM528.0 330.2H532.8V335.0H528.0zM537.6 378.3H542.4V383.1H537.6zM537.6 383.1H542.4V387.9H537.6zM537.6 387.9H542.4V392.8H537.6zM537.6 392.8H542.4V397.6H537.6z"/>
<path fill="rgb(59,82,138)" d="M523.2 296.6H528.0V301.4H523.2zM528.0 325.4H532.8V330.2H528.0zM547.2 344.7H552.0V349.5H547.2zM547.2 349.5H552.0V354.3H547.2zM523.2 373.5H528.0V378.3H523.2zM518.4 383.1H523.2V387.9H518.4zM508.7 402.4H513.5V407.2H508.7zM508.7 445.7H513.5V450.5H508.7zM513.5 450.5H518.4V455.3H513.5zM518.4 455.3H523.2V460.1H518.4z"/>
<path fill="rgb(56,88,140)" d="M528.0 301.4H532.8V306.2H528.0zM528.0 306.2H532.8V311.0H528.0zM528.0 311.0H532.8V315.8H528.0zM528.0 315.8H532.8V320.6H528.0zM528.0 320.6H532.8V325.4H528.0zM523.2 335.0H528.0V339.8H523.2zM523.2 339.8H528.0V344.7H523.2zM523.2 344.7H528.0V349.5H523.2zM523.2 349.5H528.0V354.3H523.2zM523.2 354.3H528.0V359.1H523.2zM523.2 359.1H528.0V363.9H523.2zM523.2 368.7H528.0V373.5H523.2z"/>
<path fill="rgb(53,95,141)" d="M513.5 286.9H518.4V291.7H513.5zM489.5 291.7H494.3V296.6H489.5zM513.5 291.7H518.4V296.6H513.5zM518.4 296.6H523.2V301.4H518.4zM523.2 301.4H528.0V306.2H523.2zM523.2 306.2H528.0V311.0H523.2zM523.2 311.0H528.0V315.8H523.2zM523.2 315.8H528.0V320.6H523.2zM523.2 320.6H528.0V325.4H523.2zM523.2 325.4H528.0V330.2H523.2zM523.2 330.2H528.0V335.0H523.2zM523.2 363.9H528.0V368.7H523.2zM513.5 387.9H518.4V392.8H513.5zM508.7 397.6H513.5V402.4H508.7zM499.1 407.2H503.9V412.0H499.1zM508.7 407.2H513.5V412.0H508.7zM508.7 426.4H513.5V431.2H508.7zM508.7 431.2H513.5V436.0H508.7zM508.7 436.0H513.5V440.9H508.7zM508.7 440.9H513.5V445.7H508.7zM513.5 455.3H518.4V460.1H513.5z"/>
<path fill="rgb(50,101,141)" d="M518.4 301.4H523.2V306.2H518.4z"/>
<path fill="rgb(48,108,142)" d="M494.3 291.7H499.1V296.6H494.3zM494.3 296.6H499.1V301.4H494.3zM513.5 296.6H518.4V301.4H513.5zM518.4 306.2H523.2V311.0H518.4zM518.4 378.3H523.2V383.1H518.4zM499.1 402.4H503.9V407.2H499.1zM503.9 407.2H508.7V412.0H503.9zM508.7 412.0H513.5V416.8H508.7zM508.7 416.8H513.5V421.6H508.7zM508.7 421.6H513.5V426.4H508.7z"/>
<path fill="rgb(45,114,142)" d="M499.1 291.7H503.9V296.6H499.1zM508.7 291.7H513.5V296.6H508.7zM513.5 301.4H518.4V306.2H513.5zM518.4 311.0H523.2V315.8H518.4zM518.4 315.8H523.2V320.6H518.4zM518.4 320.6H523.2V325.4H518.4zM518.4 325.4H523.2V330.2H518.4zM518.4 330.2H523.2V335.0H518.4zM518.4 335.0H523.2V339.8H518.4zM518.4 339.8H523.2V344.7H518.4zM518.4 344.7H523.2V349.5H518.4zM518.4 349.5H523.2V354.3H518.4zM518.4 354.3H523.2V359.1H518.4zM518.4 359.1H523.2V363.9H518.4z"/>
<path fill="rgb(42,120,142)" d="M499.1 286.9H503.9V291.7H499.1zM508.7 286.9H513.5V291.7H508.7zM503.9 291.7H508.7V296.6H503.9zM499.1 296.6H503.9V301.4H499.1zM508.7 296.6H513.5V301.4H508.7zM494.3 301.4H499.1V306.2H494.3zM513.5 306.2H518.4V311.0H513.5zM518.4 363.9H523.2V368.7H518.4zM518.4 368.7H523.2V373.5H518.4zM518.4 373.5H523.2V378.3H518.4zM508.7 392.8H513.5V397.6H508.7zM503.9 397.6H508.7V402.4H503.9zM503.9 402.4H508.7V407.2H503.9zM503.9 412.0H508.7V416.8H503.9z"/>
<path fill="rgb(40,126,142)" d="M503.9 286.9H508.7V291.7H503.9zM503.9 296.6H508.7V301.4H503.9zM508.7 301.4H513.5V306.2H508.7zM513.5 311.0H518.4V315.8H513.5zM513.5 315.8H518.4V320.6H513.5zM513.5 320.6H518.4V325.4H513.5zM513.5 325.4H518.4V330.2H513.5zM494.3 407.2H499.1V412.0H494.3z"/>
<path fill="rgb(38,132,141)" d="M499.1 301.4H508.7V306.2H499.1zM494.3 306.2H499.1V311.0H494.3zM508.7 306.2H513.5V311.0H508.7zM513.5 330.2H518.4V335.0H513.5zM513.5 335.0H518.4V339.8H513.5zM513.5 339.8H518.4V344.7H513.5zM513.5 344.7H518.4V349.5H513.5zM513.5 383.1H518.4V387.9H513.5zM508.7 387.9H513.5V392.8H508.7zM503.9 392.8H508.7V397.6H503.9zM499.1 397.6H503.9V402.4H499.1zM499.1 412.0H503.9V416.8H499.1zM503.9 416.8H508.7V421.6H503.9zM503.9 421.6H508.7V426.4H503.9zM503.9 426.4H508.7V431.2H503.9zM503.9 431.2H508.7V436.0H503.9zM503.9 436.0H508.7V440.9H503.9zM503.9 440.9H508.7V445.7H503.9z"/>
<path fill="rgb(35,139,140)" d="M508.7 325.4H513.5V330.2H508.7zM513.5 349.5H518.4V354.3H513.5z"/>
<path fill="rgb(33,145,140)" d="M499.1 306.2H508.7V311.0H499.1zM494.3 311.0H499.1V315.8H494.3zM508.7 311.0H513.5V315.8H508.7zM489.5 315.8H494.3V320.6H489.5zM508.7 315.8H513.5V320.6H508.7zM484.7 320.6H489.5V325.4H484.7zM508.7 320.6H513.5V325.4H508.7zM494.3 325.4H503.9V330.2H494.3zM494.3 330.2H503.9V335.0H494.3zM508.7 330.2H513.5V335.0H508.7zM470.3 354.3H475.1V359.1H470.3zM513.5 354.3H518.4V359.1H513.5zM470.3 359.1H475.1V363.9H470.3zM513.5 359.1H518.4V363.9H513.5zM470.3 363.9H475.1V368.7H470.3zM513.5 363.9H518.4V368.7H513.5zM513.5 368.7H518.4V373.5H513.5zM513.5 373.5H518.4V378.3H513.5zM513.5 378.3H518.4V383.1H513.5zM484.7 383.1H489.5V387.9H484.7zM503.9 387.9H508.7V392.8H503.9zM494.3 412.0H499.1V416.8H494.3zM499.1 416.8H503.9V421.6H499.1zM499.1 421.6H503.9V426.4H499.1zM499.1 426.4H503.9V431.2H499.1zM499.1 431.2H503.9V436.0H499.1zM499.1 436.0H503.9V440.9H499.1zM499.1 440.9H503.9V445.7H499.1z"/>
<path fill="rgb(33,151,138)" d="M499.1 311.0H503.9V315.8H499.1zM494.3 315.8H499.1V320.6H494.3zM494.3 320.6H503.9V325.4H494.3zM503.9 325.4H508.7V330.2H503.9zM503.9 330.2H508.7V335.0H503.9zM494.3 335.0H499.1V339.8H494.3zM508.7 335.0H513.5V339.8H508.7zM508.7 383.1H513.5V387.9H508.7z"/>
<path fill="rgb(34,156,136)" d="M503.9 311.0H508.7V315.8H503.9zM499.1 315.8H503.9V320.6H499.1zM489.5 320.6H494.3V325.4H489.5zM503.9 320.6H508.7V325.4H503.9zM489.5 325.4H494.3V330.2H489.5zM489.5 330.2H494.3V335.0H489.5zM499.1 335.0H508.7V339.8H499.1zM494.3 339.8H499.1V344.7H494.3zM508.7 339.8H513.5V344.7H508.7zM470.3 349.5H475.1V354.3H470.3zM475.1 354.3H479.9V359.1H475.1zM479.9 383.1H484.7V387.9H479.9zM499.1 392.8H503.9V397.6H499.1zM489.5 412.0H494.3V416.8H489.5zM494.3 416.8H499.1V421.6H494.3zM494.3 421.6H499.1V426.4H494.3zM494.3 426.4H499.1V431.2H494.3zM479.9 431.2H489.5V436.0H479.9zM494.3 431.2H499.1V436.0H494.3z"/>
<path fill="rgb(34,162,134)" d="M503.9 315.8H508.7V320.6H503.9zM489.5 335.0H494.3V339.8H489.5zM489.5 339.8H494.3V344.7H489.5zM499.1 339.8H503.9V344.7H499.1zM508.7 344.7H513.5V349.5H508.7zM489.5 349.5H494.3V354.3H489.5zM479.9 354.3H484.7V359.1H479.9zM508.7 378.3H513.5V383.1H508.7z"/>
<path fill="rgb(34,168,132)" d="M484.7 325.4H489.5V330.2H484.7zM503.9 339.8H508.7V344.7H503.9zM470.3 344.7H475.1V349.5H470.3zM484.7 344.7H494.3V349.5H484.7zM475.1 349.5H489.5V354.3H475.1zM508.7 349.5H513.5V354.3H508.7zM489.5 354.3H494.3V359.1H489.5zM508.7 354.3H513.5V359.1H508.7zM475.1 359.1H479.9V363.9H475.1zM475.1 363.9H479.9V368.7H475.1zM489.5 383.1H494.3V387.9H489.5zM503.9 383.1H508.7V387.9H503.9zM499.1 387.9H503.9V392.8H499.1zM494.3 392.8H499.1V397.6H494.3zM489.5 416.8H494.3V421.6H489.5zM489.5 421.6H494.3V426.4H489.5zM489.5 426.4H494.3V431.2H489.5zM489.5 431.2H494.3V436.0H489.5zM494.3 436.0H499.1V440.9H494.3z"/>
<path fill="rgb(42,174,127)" d="M484.7 330.2H489.5V335.0H484.7zM484.7 339.8H489.5V344.7H484.7zM475.1 344.7H484.7V349.5H475.1zM494.3 344.7H499.1V349.5H494.3zM484.7 354.3H489.5V359.1H484.7zM479.9 359.1H484.7V363.9H479.9zM489.5 359.1H494.3V363.9H489.5zM508.7 359.1H513.5V363.9H508.7zM508.7 363.9H513.5V368.7H508.7zM508.7 368.7H513.5V373.5H508.7zM508.7 373.5H513.5V378.3H508.7zM484.7 378.3H489.5V383.1H484.7z"/>
<path fill="rgb(51,180,122)" d="M479.9 325.4H484.7V330.2H479.9zM484.7 335.0H489.5V339.8H484.7zM499.1 344.7H508.7V349.5H499.1zM494.3 349.5H499.1V354.3H494.3zM503.9 349.5H508.7V354.3H503.9zM494.3 354.3H499.1V359.1H494.3zM484.7 359.1H489.5V363.9H484.7zM494.3 359.1H499.1V363.9H494.3zM479.9 363.9H484.7V368.7H479.9zM489.5 363.9H494.3V368.7H489.5zM489.5 378.3H494.3V383.1H489.5zM503.9 378.3H508.7V383.1H503.9zM494.3 383.1H503.9V387.9H494.3zM494.3 387.9H499.1V392.8H494.3zM484.7 397.6H494.3V402.4H484.7z"/>
<path fill="rgb(60,185,117)" d="M499.1 349.5H503.9V354.3H499.1zM499.1 354.3H508.7V359.1H499.1zM484.7 363.9H489.5V368.7H484.7zM494.3 363.9H499.1V368.7H494.3zM489.5 368.7H499.1V373.5H489.5zM489.5 373.5H499.1V378.3H489.5zM503.9 373.5H508.7V378.3H503.9zM494.3 378.3H503.9V383.1H494.3zM489.5 392.8H494.3V397.6H489.5z"/>
<path fill="rgb(68,191,112)" d="M479.9 339.8H484.7V344.7H479.9zM499.1 359.1H508.7V363.9H499.1zM499.1 363.9H508.7V368.7H499.1zM475.1 368.7H479.9V373.5H475.1zM484.7 368.7H489.5V373.5H484.7zM499.1 368.7H508.7V373.5H499.1zM484.7 373.5H489.5V378.3H484.7zM499.1 373.5H503.9V378.3H499.1zM479.9 378.3H484.7V383.1H479.9zM484.7 387.9H489.5V392.8H484.7z"/>
<path fill="rgb(82,196,104)" d="M479.9 330.2H484.7V335.0H479.9z"/>
<path fill="rgb(95,200,96)" d="M479.9 335.0H484.7V339.8H479.9zM479.9 368.7H484.7V373.5H479.9zM479.9 387.9H484.7V392.8H479.9zM489.5 436.0H494.3V440.9H489.5z"/>
<path fill="rgb(108,204,89)" d="M479.9 373.5H484.7V378.3H479.9z"/>
<path fill="rgb(122,209,81)" d="M475.1 373.5H479.9V378.3H475.1zM465.5 378.3H470.3V383.1H465.5zM484.7 436.0H489.5V440.9H484.7z"/>
<path fill="rgb(156,216,60)" d="M470.3 378.3H475.1V383.1H470.3zM475.1 383.1H479.9V387.9H475.1z"/>
<path fill="rgb(172,220,49)" d="M475.1 378.3H479.9V383.1H475.1z"/>
<path fill="rgb(253,231,37)" d="M479.9 440.9H484.7V445.7H479.9z"/>
<rect x="460.6" y="272.5" width="173.1" height="187.6" fill="none" stroke="#000" stroke-width="1" shape-rendering="geometricPrecision"/>
<text class="ax" transform="translate(465.5,473.5) scale(.84,1)" text-anchor="middle">-81</text>
<text class="ax" transform="translate(494.3,473.5) scale(.84,1)" text-anchor="middle">-80</text>
<text class="ax" transform="translate(523.2,473.5) scale(.84,1)" text-anchor="middle">-79</text>
<text class="ax" transform="translate(552.0,473.5) scale(.84,1)" text-anchor="middle">-78</text>
<text class="ax" transform="translate(580.9,473.5) scale(.84,1)" text-anchor="middle">-77</text>
<text class="ax" transform="translate(609.7,473.5) scale(.84,1)" text-anchor="middle">-76</text>
<text class="ax" transform="translate(455.2,286.9) rotate(-90) scale(.84,1)" text-anchor="middle">1</text>
<text class="ax" transform="translate(455.2,315.8) rotate(-90) scale(.84,1)" text-anchor="middle">0</text>
<text class="ax" transform="translate(455.2,344.7) rotate(-90) scale(.84,1)" text-anchor="middle">-1</text>
<text class="ax" transform="translate(455.2,373.5) rotate(-90) scale(.84,1)" text-anchor="middle">-2</text>
<text class="ax" transform="translate(455.2,402.4) rotate(-90) scale(.84,1)" text-anchor="middle">-3</text>
<text class="ax" transform="translate(455.2,431.2) rotate(-90) scale(.84,1)" text-anchor="middle">-4</text>
<text class="ax" transform="translate(455.2,460.1) rotate(-90) scale(.84,1)" text-anchor="middle">-5</text>
<path d="M465.5 460.1v3.8M494.3 460.1v3.8M523.2 460.1v3.8M552.0 460.1v3.8M580.9 460.1v3.8M609.7 460.1v3.8M460.6 286.9h-3.8M460.6 315.8h-3.8M460.6 344.7h-3.8M460.6 373.5h-3.8M460.6 402.4h-3.8M460.6 431.2h-3.8M460.6 460.1h-3.8" stroke="#000" stroke-width="1" fill="none" shape-rendering="geometricPrecision"/>
<text class="ti" x="547.2" y="265.9" text-anchor="middle">bio15</text>
<rect x="643.5" y="272.5" width="9.6" height="187.6" fill="url(#vg)" stroke="#000" stroke-width="1" shape-rendering="geometricPrecision"/>
<text class="lg" x="659.4" y="274.2">160</text>
<text class="lg" x="659.4" y="299.2">140</text>
<text class="lg" x="659.4" y="324.2">120</text>
<text class="lg" x="659.4" y="349.2">100</text>
<text class="lg" x="659.4" y="374.2">80</text>
<text class="lg" x="659.4" y="399.2">60</text>
<text class="lg" x="659.4" y="424.2">40</text>
<text class="lg" x="659.4" y="449.2">20</text>
<path d="M643.5 272.5h12.5M643.5 297.5h12.5M643.5 322.5h12.5M643.5 347.5h12.5M643.5 372.5h12.5M643.5 397.5h12.5M643.5 422.5h12.5M643.5 447.5h12.5" stroke="#000" stroke-width="1" fill="none" shape-rendering="geometricPrecision"/></g>
</svg>
</body></html>
